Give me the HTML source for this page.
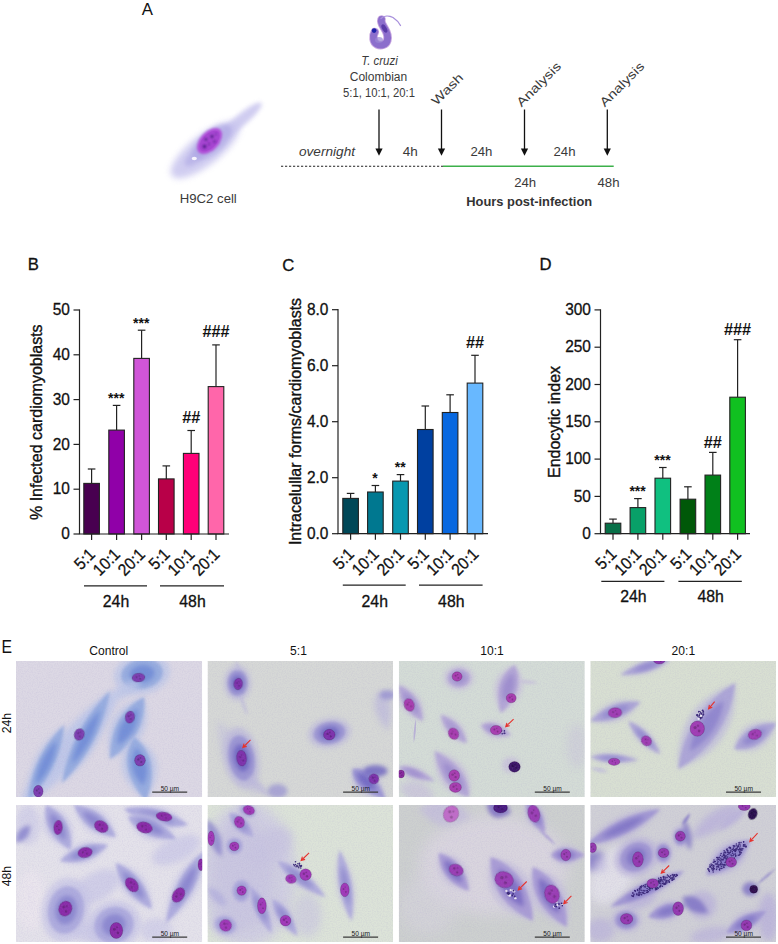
<!DOCTYPE html>
<html><head><meta charset="utf-8"><style>
html,body{margin:0;padding:0;background:#fff;overflow:hidden;}
svg{display:block;font-family:"Liberation Sans", sans-serif;}
</style></head><body>
<svg width="778" height="944" viewBox="0 0 778 944">
<defs><filter id="grain" x="0" y="0" width="100%" height="100%"><feTurbulence type="fractalNoise" baseFrequency="0.8" numOctaves="2" seed="7"/><feColorMatrix type="matrix" values="0 0 0 0 0.35  0 0 0 0 0.3  0 0 0 0 0.6  0 0 0 -1.6 0.95"/></filter><filter id="b0_5" x="-50%" y="-50%" width="200%" height="200%"><feGaussianBlur stdDeviation="0.5"/></filter><filter id="b0_8" x="-50%" y="-50%" width="200%" height="200%"><feGaussianBlur stdDeviation="0.8"/></filter><filter id="b1" x="-50%" y="-50%" width="200%" height="200%"><feGaussianBlur stdDeviation="1"/></filter><filter id="b1_2" x="-50%" y="-50%" width="200%" height="200%"><feGaussianBlur stdDeviation="1.2"/></filter><filter id="b1_5" x="-50%" y="-50%" width="200%" height="200%"><feGaussianBlur stdDeviation="1.5"/></filter><filter id="b2" x="-50%" y="-50%" width="200%" height="200%"><feGaussianBlur stdDeviation="2"/></filter><filter id="b2_2" x="-50%" y="-50%" width="200%" height="200%"><feGaussianBlur stdDeviation="2.2"/></filter><filter id="b2_5" x="-50%" y="-50%" width="200%" height="200%"><feGaussianBlur stdDeviation="2.5"/></filter><filter id="b3" x="-50%" y="-50%" width="200%" height="200%"><feGaussianBlur stdDeviation="3"/></filter><filter id="b3_5" x="-50%" y="-50%" width="200%" height="200%"><feGaussianBlur stdDeviation="3.5"/></filter><filter id="b4" x="-50%" y="-50%" width="200%" height="200%"><feGaussianBlur stdDeviation="4"/></filter><filter id="b5" x="-50%" y="-50%" width="200%" height="200%"><feGaussianBlur stdDeviation="5"/></filter><filter id="b6" x="-50%" y="-50%" width="200%" height="200%"><feGaussianBlur stdDeviation="6"/></filter><filter id="b8" x="-50%" y="-50%" width="200%" height="200%"><feGaussianBlur stdDeviation="8"/></filter></defs>
<rect width="778" height="944" fill="#fff"/>
<text x="141.8" y="14.7" font-size="16.8" text-anchor="start" fill="#111">A</text>
<g>
<ellipse cx="205" cy="150" rx="42" ry="15" transform="rotate(-38 205 150)" fill="#c8c4ee" opacity="0.85" filter="url(#b3)"/>
<ellipse cx="240" cy="121" rx="28" ry="6" transform="rotate(-40 240 121)" fill="#c8c4ee" opacity="0.85" filter="url(#b2)"/>
<ellipse cx="212" cy="142" rx="24" ry="11" transform="rotate(-40 212 142)" fill="#aea8e4" opacity="0.7" filter="url(#b2)"/>
<ellipse cx="196" cy="156" rx="14" ry="6" transform="rotate(-40 196 156)" fill="#aea8e4" opacity="0.6" filter="url(#b2)"/>
<ellipse cx="209.5" cy="141" rx="15.5" ry="9.2" transform="rotate(-47 209.5 141)" fill="#b050d8" filter="url(#b1)"/>
<ellipse cx="209.5" cy="141" rx="12.5" ry="7" transform="rotate(-47 209.5 141)" fill="#a444d0" opacity="0.8"/>
<g filter="url(#b0_8)" fill="#5a2090"><circle cx="204.5" cy="146.5" r="1.9"/><circle cx="212" cy="136.5" r="1.7"/><circle cx="206" cy="139.5" r="1.4"/><circle cx="214.5" cy="141.5" r="1.3" opacity="0.8"/><circle cx="209" cy="144" r="1.2" opacity="0.7"/><circle cx="216" cy="134" r="1.1" opacity="0.6"/></g>
<ellipse cx="194.3" cy="158.5" rx="2.6" ry="1.8" fill="#fff" opacity="0.85"/>
</g>
<text x="208.3" y="203.3" font-size="13.6" text-anchor="middle" fill="#3a3a3a" textLength="57" lengthAdjust="spacingAndGlyphs">H9C2 cell</text>
<g filter="url(#b0_5)">
<path d="M374.8 32 C372.5 36, 373 42, 377 44.3 C381 46.3, 386 44.8, 387.3 40.5 C388.6 36, 386.5 31.5, 384.3 28 C382.5 25, 380.5 22.5, 381.5 19.5" fill="none" stroke="#c8a6e0" stroke-width="8.6" stroke-linecap="round"/>
<path d="M374.8 32 C372.5 36, 373 42, 377 44.3 C381 46.3, 386 44.8, 387.3 40.5 C388.6 36, 386.5 31.5, 384.3 28 C382.5 25, 380.5 22.5, 381.5 19.5" fill="none" stroke="#8c6ecc" stroke-width="6.8" stroke-linecap="round"/>
<path d="M381 18.5 C384 15.5, 389 15.5, 393 17.5 C396 19.5, 399 22.5, 400.5 25.5" fill="none" stroke="#a890dc" stroke-width="1.3" stroke-linecap="round"/>
<ellipse cx="384.4" cy="28.5" rx="2.2" ry="4.5" transform="rotate(-30 384.4 28.5)" fill="#5a3aa8"/>
<ellipse cx="379" cy="40" rx="4" ry="3" fill="#9a86d4" opacity="0.7"/>
</g>
<circle cx="374.1" cy="30.6" r="2.3" fill="#1c22a8" filter="url(#b0_5)"/>
<text x="379.5" y="64.8" font-size="12" text-anchor="middle" fill="#3a3a3a" font-style="italic" textLength="36.5" lengthAdjust="spacingAndGlyphs">T. cruzi</text>
<text x="378.5" y="81.3" font-size="12" text-anchor="middle" fill="#3a3a3a" textLength="57.5" lengthAdjust="spacingAndGlyphs">Colombian</text>
<text x="379" y="97.3" font-size="12" text-anchor="middle" fill="#3a3a3a" textLength="72" lengthAdjust="spacingAndGlyphs">5:1, 10:1, 20:1</text>
<line x1="379" y1="109.5" x2="379" y2="150" stroke="#111" stroke-width="1.3"/>
<path d="M375.4 148.6 L382.6 148.6 L379 155.8 Z" fill="#111"/>
<line x1="441.5" y1="109.5" x2="441.5" y2="150" stroke="#111" stroke-width="1.3"/>
<path d="M437.9 148.6 L445.1 148.6 L441.5 155.8 Z" fill="#111"/>
<line x1="524.5" y1="109.5" x2="524.5" y2="150" stroke="#111" stroke-width="1.3"/>
<path d="M520.9 148.6 L528.1 148.6 L524.5 155.8 Z" fill="#111"/>
<line x1="607.3" y1="109.5" x2="607.3" y2="150" stroke="#111" stroke-width="1.3"/>
<path d="M603.6999999999999 148.6 L610.9 148.6 L607.3 155.8 Z" fill="#111"/>
<text x="327" y="156.2" font-size="12.5" text-anchor="middle" fill="#3a3a3a" font-style="italic" textLength="56" lengthAdjust="spacingAndGlyphs">overnight</text>
<text x="410.3" y="156.3" font-size="12.5" text-anchor="middle" fill="#3a3a3a" textLength="15" lengthAdjust="spacingAndGlyphs">4h</text>
<text x="481.4" y="156.4" font-size="12.5" text-anchor="middle" fill="#3a3a3a" textLength="22" lengthAdjust="spacingAndGlyphs">24h</text>
<text x="564.5" y="156.4" font-size="12.5" text-anchor="middle" fill="#3a3a3a" textLength="22" lengthAdjust="spacingAndGlyphs">24h</text>
<text x="525.2" y="187.3" font-size="12.5" text-anchor="middle" fill="#3a3a3a" textLength="22" lengthAdjust="spacingAndGlyphs">24h</text>
<text x="608.5" y="187.3" font-size="12.5" text-anchor="middle" fill="#3a3a3a" textLength="22" lengthAdjust="spacingAndGlyphs">48h</text>
<text x="529.2" y="205.6" font-size="12.5" text-anchor="middle" fill="#333" font-weight="bold" textLength="125.8" lengthAdjust="spacingAndGlyphs">Hours post-infection</text>
<line x1="281" y1="166.2" x2="443" y2="166.2" stroke="#222" stroke-width="1.1" stroke-dasharray="2.2 1.8"/>
<line x1="443" y1="166.3" x2="613.7" y2="166.3" stroke="#3cb04a" stroke-width="1.4"/>
<text x="436.5" y="106" font-size="12.5" text-anchor="start" fill="#3a3a3a" transform="rotate(-45 436.5 106)" textLength="39" lengthAdjust="spacingAndGlyphs">Wash</text>
<text x="521.5" y="107.5" font-size="12.5" text-anchor="start" fill="#3a3a3a" transform="rotate(-45 521.5 107.5)" textLength="57" lengthAdjust="spacingAndGlyphs">Analysis</text>
<text x="604.8" y="107.5" font-size="12.5" text-anchor="start" fill="#3a3a3a" transform="rotate(-45 604.8 107.5)" textLength="57" lengthAdjust="spacingAndGlyphs">Analysis</text>
<text x="27.8" y="270.3" font-size="16.7" text-anchor="start" fill="#111" stroke="#111" stroke-width="0.3">B</text>
<line x1="91.6" y1="483.4" x2="91.6" y2="469.0" stroke="#222" stroke-width="1.2"/>
<line x1="87.8" y1="469.0" x2="95.39999999999999" y2="469.0" stroke="#222" stroke-width="1.2"/>
<rect x="83.8" y="483.4" width="15.6" height="50.6" fill="#480050" stroke="#222" stroke-width="1.1"/>
<line x1="116.6" y1="430.1" x2="116.6" y2="405.4" stroke="#222" stroke-width="1.2"/>
<line x1="112.8" y1="405.4" x2="120.39999999999999" y2="405.4" stroke="#222" stroke-width="1.2"/>
<rect x="108.8" y="430.1" width="15.6" height="103.9" fill="#9000a8" stroke="#222" stroke-width="1.1"/>
<text x="116.3" y="402.82399999999996" font-size="14" text-anchor="middle" fill="#111" font-weight="bold">***</text>
<line x1="141.6" y1="358.4" x2="141.6" y2="330.2" stroke="#222" stroke-width="1.2"/>
<line x1="137.79999999999998" y1="330.2" x2="145.4" y2="330.2" stroke="#222" stroke-width="1.2"/>
<rect x="133.79999999999998" y="358.4" width="15.6" height="175.6" fill="#d055d8" stroke="#222" stroke-width="1.1"/>
<text x="141.29999999999998" y="327.55999999999995" font-size="14" text-anchor="middle" fill="#111" font-weight="bold">***</text>
<line x1="166.3" y1="478.9" x2="166.3" y2="465.9" stroke="#222" stroke-width="1.2"/>
<line x1="162.5" y1="465.9" x2="170.10000000000002" y2="465.9" stroke="#222" stroke-width="1.2"/>
<rect x="158.5" y="478.9" width="15.6" height="55.1" fill="#b80048" stroke="#222" stroke-width="1.1"/>
<line x1="191.2" y1="453.4" x2="191.2" y2="430.5" stroke="#222" stroke-width="1.2"/>
<line x1="187.39999999999998" y1="430.5" x2="195.0" y2="430.5" stroke="#222" stroke-width="1.2"/>
<rect x="183.39999999999998" y="453.4" width="15.6" height="80.6" fill="#ff0078" stroke="#222" stroke-width="1.1"/>
<text x="191.2" y="422.512" font-size="16.3" text-anchor="middle" fill="#111" font-weight="bold">##</text>
<line x1="216.0" y1="386.6" x2="216.0" y2="344.9" stroke="#222" stroke-width="1.2"/>
<line x1="212.2" y1="344.9" x2="219.8" y2="344.9" stroke="#222" stroke-width="1.2"/>
<rect x="208.2" y="386.6" width="15.6" height="147.4" fill="#ff66aa" stroke="#222" stroke-width="1.1"/>
<text x="216.0" y="336.94399999999996" font-size="16.3" text-anchor="middle" fill="#111" font-weight="bold">###</text>
<line x1="79.5" y1="309.4" x2="79.5" y2="534" stroke="#222" stroke-width="1.2"/>
<line x1="78.9" y1="534" x2="229" y2="534" stroke="#222" stroke-width="1.2"/>
<line x1="73.5" y1="534.0" x2="79.5" y2="534.0" stroke="#222" stroke-width="1.2"/>
<text x="0" y="0" font-size="16.8" text-anchor="end" fill="#111" stroke="#111" stroke-width="0.3" transform="translate(69.9 539.2) scale(0.92 1)">0</text>
<line x1="73.5" y1="489.2" x2="79.5" y2="489.2" stroke="#222" stroke-width="1.2"/>
<text x="0" y="0" font-size="16.8" text-anchor="end" fill="#111" stroke="#111" stroke-width="0.3" transform="translate(69.9 494.4) scale(0.92 1)">10</text>
<line x1="73.5" y1="444.4" x2="79.5" y2="444.4" stroke="#222" stroke-width="1.2"/>
<text x="0" y="0" font-size="16.8" text-anchor="end" fill="#111" stroke="#111" stroke-width="0.3" transform="translate(69.9 449.59999999999997) scale(0.92 1)">20</text>
<line x1="73.5" y1="399.6" x2="79.5" y2="399.6" stroke="#222" stroke-width="1.2"/>
<text x="0" y="0" font-size="16.8" text-anchor="end" fill="#111" stroke="#111" stroke-width="0.3" transform="translate(69.9 404.8) scale(0.92 1)">30</text>
<line x1="73.5" y1="354.8" x2="79.5" y2="354.8" stroke="#222" stroke-width="1.2"/>
<text x="0" y="0" font-size="16.8" text-anchor="end" fill="#111" stroke="#111" stroke-width="0.3" transform="translate(69.9 359.99999999999994) scale(0.92 1)">40</text>
<line x1="73.5" y1="310.0" x2="79.5" y2="310.0" stroke="#222" stroke-width="1.2"/>
<text x="0" y="0" font-size="16.8" text-anchor="end" fill="#111" stroke="#111" stroke-width="0.3" transform="translate(69.9 315.2) scale(0.92 1)">50</text>
<line x1="91.6" y1="534" x2="91.6" y2="540" stroke="#222" stroke-width="1.2"/>
<line x1="116.6" y1="534" x2="116.6" y2="540" stroke="#222" stroke-width="1.2"/>
<line x1="141.6" y1="534" x2="141.6" y2="540" stroke="#222" stroke-width="1.2"/>
<line x1="166.3" y1="534" x2="166.3" y2="540" stroke="#222" stroke-width="1.2"/>
<line x1="191.2" y1="534" x2="191.2" y2="540" stroke="#222" stroke-width="1.2"/>
<line x1="216.0" y1="534" x2="216.0" y2="540" stroke="#222" stroke-width="1.2"/>
<text x="0" y="0" font-size="16.8" text-anchor="end" fill="#111" stroke="#111" stroke-width="0.3" transform="translate(96.1 555.5) rotate(-45) scale(0.92 1)">5:1</text>
<text x="0" y="0" font-size="16.8" text-anchor="end" fill="#111" stroke="#111" stroke-width="0.3" transform="translate(121.1 555.5) rotate(-45) scale(0.92 1)">10:1</text>
<text x="0" y="0" font-size="16.8" text-anchor="end" fill="#111" stroke="#111" stroke-width="0.3" transform="translate(146.1 555.5) rotate(-45) scale(0.92 1)">20:1</text>
<text x="0" y="0" font-size="16.8" text-anchor="end" fill="#111" stroke="#111" stroke-width="0.3" transform="translate(170.8 555.5) rotate(-45) scale(0.92 1)">5:1</text>
<text x="0" y="0" font-size="16.8" text-anchor="end" fill="#111" stroke="#111" stroke-width="0.3" transform="translate(195.7 555.5) rotate(-45) scale(0.92 1)">10:1</text>
<text x="0" y="0" font-size="16.8" text-anchor="end" fill="#111" stroke="#111" stroke-width="0.3" transform="translate(220.5 555.5) rotate(-45) scale(0.92 1)">20:1</text>
<text x="42.0" y="422.2" font-size="16" text-anchor="middle" fill="#111" stroke="#111" stroke-width="0.35" transform="rotate(-90 42.0 422.2)">% Infected cardiomyoblasts</text>
<line x1="84" y1="585.8" x2="147" y2="585.8" stroke="#222" stroke-width="1.2"/>
<text x="116.0" y="607" font-size="15.8" text-anchor="middle" fill="#111" stroke="#111" stroke-width="0.3">24h</text>
<line x1="160" y1="585.8" x2="224" y2="585.8" stroke="#222" stroke-width="1.2"/>
<text x="192.5" y="607" font-size="15.8" text-anchor="middle" fill="#111" stroke="#111" stroke-width="0.3">48h</text>
<text x="282.2" y="270.6" font-size="16.7" text-anchor="start" fill="#111" stroke="#111" stroke-width="0.3">C</text>
<line x1="350.6" y1="498.4" x2="350.6" y2="493.4" stroke="#222" stroke-width="1.2"/>
<line x1="346.8" y1="493.4" x2="354.40000000000003" y2="493.4" stroke="#222" stroke-width="1.2"/>
<rect x="342.8" y="498.4" width="15.6" height="35.3" fill="#004858" stroke="#222" stroke-width="1.1"/>
<line x1="375.4" y1="492.0" x2="375.4" y2="485.5" stroke="#222" stroke-width="1.2"/>
<line x1="371.59999999999997" y1="485.5" x2="379.2" y2="485.5" stroke="#222" stroke-width="1.2"/>
<rect x="367.59999999999997" y="492.0" width="15.6" height="41.7" fill="#007890" stroke="#222" stroke-width="1.1"/>
<text x="375.09999999999997" y="482.94" font-size="14" text-anchor="middle" fill="#111" font-weight="bold">*</text>
<line x1="400.5" y1="481.1" x2="400.5" y2="474.6" stroke="#222" stroke-width="1.2"/>
<line x1="396.7" y1="474.6" x2="404.3" y2="474.6" stroke="#222" stroke-width="1.2"/>
<rect x="392.7" y="481.1" width="15.6" height="52.6" fill="#0898b0" stroke="#222" stroke-width="1.1"/>
<text x="400.2" y="472.02" font-size="14" text-anchor="middle" fill="#111" font-weight="bold">**</text>
<line x1="425.3" y1="429.5" x2="425.3" y2="406.0" stroke="#222" stroke-width="1.2"/>
<line x1="421.5" y1="406.0" x2="429.1" y2="406.0" stroke="#222" stroke-width="1.2"/>
<rect x="417.5" y="429.5" width="15.6" height="104.2" fill="#0040a0" stroke="#222" stroke-width="1.1"/>
<line x1="450.1" y1="412.5" x2="450.1" y2="394.8" stroke="#222" stroke-width="1.2"/>
<line x1="446.3" y1="394.8" x2="453.90000000000003" y2="394.8" stroke="#222" stroke-width="1.2"/>
<rect x="442.3" y="412.5" width="15.6" height="121.2" fill="#0868e0" stroke="#222" stroke-width="1.1"/>
<line x1="475.0" y1="383.1" x2="475.0" y2="355.3" stroke="#222" stroke-width="1.2"/>
<line x1="471.2" y1="355.3" x2="478.8" y2="355.3" stroke="#222" stroke-width="1.2"/>
<rect x="467.2" y="383.1" width="15.6" height="150.6" fill="#68b8ff" stroke="#222" stroke-width="1.1"/>
<text x="475.0" y="347.94000000000005" font-size="16.3" text-anchor="middle" fill="#111" font-weight="bold">##</text>
<line x1="338" y1="309.09999999999997" x2="338" y2="533.7" stroke="#222" stroke-width="1.2"/>
<line x1="337.4" y1="533.7" x2="488" y2="533.7" stroke="#222" stroke-width="1.2"/>
<line x1="332" y1="533.7" x2="338" y2="533.7" stroke="#222" stroke-width="1.2"/>
<text x="0" y="0" font-size="16.8" text-anchor="end" fill="#111" stroke="#111" stroke-width="0.3" transform="translate(328.4 538.9000000000001) scale(0.92 1)">0.0</text>
<line x1="332" y1="477.7" x2="338" y2="477.7" stroke="#222" stroke-width="1.2"/>
<text x="0" y="0" font-size="16.8" text-anchor="end" fill="#111" stroke="#111" stroke-width="0.3" transform="translate(328.4 482.90000000000003) scale(0.92 1)">2.0</text>
<line x1="332" y1="421.7" x2="338" y2="421.7" stroke="#222" stroke-width="1.2"/>
<text x="0" y="0" font-size="16.8" text-anchor="end" fill="#111" stroke="#111" stroke-width="0.3" transform="translate(328.4 426.90000000000003) scale(0.92 1)">4.0</text>
<line x1="332" y1="365.7" x2="338" y2="365.7" stroke="#222" stroke-width="1.2"/>
<text x="0" y="0" font-size="16.8" text-anchor="end" fill="#111" stroke="#111" stroke-width="0.3" transform="translate(328.4 370.9) scale(0.92 1)">6.0</text>
<line x1="332" y1="309.7" x2="338" y2="309.7" stroke="#222" stroke-width="1.2"/>
<text x="0" y="0" font-size="16.8" text-anchor="end" fill="#111" stroke="#111" stroke-width="0.3" transform="translate(328.4 314.9) scale(0.92 1)">8.0</text>
<line x1="350.6" y1="533.7" x2="350.6" y2="539.7" stroke="#222" stroke-width="1.2"/>
<line x1="375.4" y1="533.7" x2="375.4" y2="539.7" stroke="#222" stroke-width="1.2"/>
<line x1="400.5" y1="533.7" x2="400.5" y2="539.7" stroke="#222" stroke-width="1.2"/>
<line x1="425.3" y1="533.7" x2="425.3" y2="539.7" stroke="#222" stroke-width="1.2"/>
<line x1="450.1" y1="533.7" x2="450.1" y2="539.7" stroke="#222" stroke-width="1.2"/>
<line x1="475.0" y1="533.7" x2="475.0" y2="539.7" stroke="#222" stroke-width="1.2"/>
<text x="0" y="0" font-size="16.8" text-anchor="end" fill="#111" stroke="#111" stroke-width="0.3" transform="translate(355.1 555.2) rotate(-45) scale(0.92 1)">5:1</text>
<text x="0" y="0" font-size="16.8" text-anchor="end" fill="#111" stroke="#111" stroke-width="0.3" transform="translate(379.9 555.2) rotate(-45) scale(0.92 1)">10:1</text>
<text x="0" y="0" font-size="16.8" text-anchor="end" fill="#111" stroke="#111" stroke-width="0.3" transform="translate(405.0 555.2) rotate(-45) scale(0.92 1)">20:1</text>
<text x="0" y="0" font-size="16.8" text-anchor="end" fill="#111" stroke="#111" stroke-width="0.3" transform="translate(429.8 555.2) rotate(-45) scale(0.92 1)">5:1</text>
<text x="0" y="0" font-size="16.8" text-anchor="end" fill="#111" stroke="#111" stroke-width="0.3" transform="translate(454.6 555.2) rotate(-45) scale(0.92 1)">10:1</text>
<text x="0" y="0" font-size="16.8" text-anchor="end" fill="#111" stroke="#111" stroke-width="0.3" transform="translate(479.5 555.2) rotate(-45) scale(0.92 1)">20:1</text>
<text x="300.5" y="421.5" font-size="16" text-anchor="middle" fill="#111" stroke="#111" stroke-width="0.35" transform="rotate(-90 300.5 421.5)">Intracelullar forms/cardiomyoblasts</text>
<line x1="342.8" y1="585.1" x2="405.7" y2="585.1" stroke="#222" stroke-width="1.2"/>
<text x="374.75" y="607" font-size="15.8" text-anchor="middle" fill="#111" stroke="#111" stroke-width="0.3">24h</text>
<line x1="419" y1="585.1" x2="482.6" y2="585.1" stroke="#222" stroke-width="1.2"/>
<text x="451.3" y="607" font-size="15.8" text-anchor="middle" fill="#111" stroke="#111" stroke-width="0.3">48h</text>
<text x="539.6" y="270.3" font-size="16.7" text-anchor="start" fill="#111" stroke="#111" stroke-width="0.3">D</text>
<line x1="613" y1="523.2" x2="613" y2="519.1" stroke="#222" stroke-width="1.2"/>
<line x1="609.2" y1="519.1" x2="616.8" y2="519.1" stroke="#222" stroke-width="1.2"/>
<rect x="605.2" y="523.2" width="15.6" height="10.5" fill="#087048" stroke="#222" stroke-width="1.1"/>
<line x1="637.9" y1="507.6" x2="637.9" y2="498.6" stroke="#222" stroke-width="1.2"/>
<line x1="634.1" y1="498.6" x2="641.6999999999999" y2="498.6" stroke="#222" stroke-width="1.2"/>
<rect x="630.1" y="507.6" width="15.6" height="26.1" fill="#08a068" stroke="#222" stroke-width="1.1"/>
<text x="637.6" y="496.038" font-size="14" text-anchor="middle" fill="#111" font-weight="bold">***</text>
<line x1="662.8" y1="478.2" x2="662.8" y2="467.5" stroke="#222" stroke-width="1.2"/>
<line x1="659.0" y1="467.5" x2="666.5999999999999" y2="467.5" stroke="#222" stroke-width="1.2"/>
<rect x="655.0" y="478.2" width="15.6" height="55.5" fill="#10c080" stroke="#222" stroke-width="1.1"/>
<text x="662.5" y="464.9298" font-size="14" text-anchor="middle" fill="#111" font-weight="bold">***</text>
<line x1="687.9" y1="499.2" x2="687.9" y2="486.8" stroke="#222" stroke-width="1.2"/>
<line x1="684.1" y1="486.8" x2="691.6999999999999" y2="486.8" stroke="#222" stroke-width="1.2"/>
<rect x="680.1" y="499.2" width="15.6" height="34.5" fill="#005808" stroke="#222" stroke-width="1.1"/>
<line x1="712.8" y1="475.1" x2="712.8" y2="452.4" stroke="#222" stroke-width="1.2"/>
<line x1="709.0" y1="452.4" x2="716.5999999999999" y2="452.4" stroke="#222" stroke-width="1.2"/>
<rect x="705.0" y="475.1" width="15.6" height="58.6" fill="#008018" stroke="#222" stroke-width="1.1"/>
<text x="712.8" y="447.586" font-size="16.3" text-anchor="middle" fill="#111" font-weight="bold">##</text>
<line x1="737.6" y1="397.2" x2="737.6" y2="339.7" stroke="#222" stroke-width="1.2"/>
<line x1="733.8000000000001" y1="339.7" x2="741.4" y2="339.7" stroke="#222" stroke-width="1.2"/>
<rect x="729.8000000000001" y="397.2" width="15.6" height="136.5" fill="#10c020" stroke="#222" stroke-width="1.1"/>
<text x="737.6" y="334.94" font-size="16.3" text-anchor="middle" fill="#111" font-weight="bold">###</text>
<line x1="600.5" y1="309.29999999999995" x2="600.5" y2="533.7" stroke="#222" stroke-width="1.2"/>
<line x1="599.9" y1="533.7" x2="750" y2="533.7" stroke="#222" stroke-width="1.2"/>
<line x1="594.5" y1="533.7" x2="600.5" y2="533.7" stroke="#222" stroke-width="1.2"/>
<text x="0" y="0" font-size="16.8" text-anchor="end" fill="#111" stroke="#111" stroke-width="0.3" transform="translate(590.9 538.9000000000001) scale(0.92 1)">0</text>
<line x1="594.5" y1="496.4" x2="600.5" y2="496.4" stroke="#222" stroke-width="1.2"/>
<text x="0" y="0" font-size="16.8" text-anchor="end" fill="#111" stroke="#111" stroke-width="0.3" transform="translate(590.9 501.6) scale(0.92 1)">50</text>
<line x1="594.5" y1="459.1" x2="600.5" y2="459.1" stroke="#222" stroke-width="1.2"/>
<text x="0" y="0" font-size="16.8" text-anchor="end" fill="#111" stroke="#111" stroke-width="0.3" transform="translate(590.9 464.3) scale(0.92 1)">100</text>
<line x1="594.5" y1="421.8" x2="600.5" y2="421.8" stroke="#222" stroke-width="1.2"/>
<text x="0" y="0" font-size="16.8" text-anchor="end" fill="#111" stroke="#111" stroke-width="0.3" transform="translate(590.9 427.0) scale(0.92 1)">150</text>
<line x1="594.5" y1="384.5" x2="600.5" y2="384.5" stroke="#222" stroke-width="1.2"/>
<text x="0" y="0" font-size="16.8" text-anchor="end" fill="#111" stroke="#111" stroke-width="0.3" transform="translate(590.9 389.7) scale(0.92 1)">200</text>
<line x1="594.5" y1="347.2" x2="600.5" y2="347.2" stroke="#222" stroke-width="1.2"/>
<text x="0" y="0" font-size="16.8" text-anchor="end" fill="#111" stroke="#111" stroke-width="0.3" transform="translate(590.9 352.4) scale(0.92 1)">250</text>
<line x1="594.5" y1="309.9" x2="600.5" y2="309.9" stroke="#222" stroke-width="1.2"/>
<text x="0" y="0" font-size="16.8" text-anchor="end" fill="#111" stroke="#111" stroke-width="0.3" transform="translate(590.9 315.09999999999997) scale(0.92 1)">300</text>
<line x1="613" y1="533.7" x2="613" y2="539.7" stroke="#222" stroke-width="1.2"/>
<line x1="637.9" y1="533.7" x2="637.9" y2="539.7" stroke="#222" stroke-width="1.2"/>
<line x1="662.8" y1="533.7" x2="662.8" y2="539.7" stroke="#222" stroke-width="1.2"/>
<line x1="687.9" y1="533.7" x2="687.9" y2="539.7" stroke="#222" stroke-width="1.2"/>
<line x1="712.8" y1="533.7" x2="712.8" y2="539.7" stroke="#222" stroke-width="1.2"/>
<line x1="737.6" y1="533.7" x2="737.6" y2="539.7" stroke="#222" stroke-width="1.2"/>
<text x="0" y="0" font-size="16.8" text-anchor="end" fill="#111" stroke="#111" stroke-width="0.3" transform="translate(617.5 555.2) rotate(-45) scale(0.92 1)">5:1</text>
<text x="0" y="0" font-size="16.8" text-anchor="end" fill="#111" stroke="#111" stroke-width="0.3" transform="translate(642.4 555.2) rotate(-45) scale(0.92 1)">10:1</text>
<text x="0" y="0" font-size="16.8" text-anchor="end" fill="#111" stroke="#111" stroke-width="0.3" transform="translate(667.3 555.2) rotate(-45) scale(0.92 1)">20:1</text>
<text x="0" y="0" font-size="16.8" text-anchor="end" fill="#111" stroke="#111" stroke-width="0.3" transform="translate(692.4 555.2) rotate(-45) scale(0.92 1)">5:1</text>
<text x="0" y="0" font-size="16.8" text-anchor="end" fill="#111" stroke="#111" stroke-width="0.3" transform="translate(717.3 555.2) rotate(-45) scale(0.92 1)">10:1</text>
<text x="0" y="0" font-size="16.8" text-anchor="end" fill="#111" stroke="#111" stroke-width="0.3" transform="translate(742.1 555.2) rotate(-45) scale(0.92 1)">20:1</text>
<text x="559.5" y="422" font-size="16" text-anchor="middle" fill="#111" stroke="#111" stroke-width="0.35" transform="rotate(-90 559.5 422)">Endocytic index</text>
<line x1="601.3" y1="581.4" x2="664.4" y2="581.4" stroke="#222" stroke-width="1.2"/>
<text x="633.3499999999999" y="601.8" font-size="15.8" text-anchor="middle" fill="#111" stroke="#111" stroke-width="0.3">24h</text>
<line x1="678.4" y1="581.4" x2="741.8" y2="581.4" stroke="#222" stroke-width="1.2"/>
<text x="710.5999999999999" y="601.8" font-size="15.8" text-anchor="middle" fill="#111" stroke="#111" stroke-width="0.3">48h</text>
<text x="0" y="0" font-size="17.5" text-anchor="start" fill="#111" transform="translate(1.6 653.2) scale(0.9 1)">E</text>
<text x="0" y="0" font-size="13" text-anchor="middle" fill="#111" transform="translate(108.75 654.9) scale(0.93 1)">Control</text>
<text x="0" y="0" font-size="13" text-anchor="middle" fill="#111" transform="translate(298.45 654.9) scale(0.93 1)">5:1</text>
<text x="0" y="0" font-size="13" text-anchor="middle" fill="#111" transform="translate(492 654.9) scale(0.93 1)">10:1</text>
<text x="0" y="0" font-size="13" text-anchor="middle" fill="#111" transform="translate(683.35 654.9) scale(0.93 1)">20:1</text>
<text x="10.9" y="723" font-size="12.2" text-anchor="middle" fill="#111" transform="rotate(-90 10.9 723)">24h</text>
<text x="10.9" y="876" font-size="12.2" text-anchor="middle" fill="#111" transform="rotate(-90 10.9 876)">48h</text>
<svg x="16" y="661" width="186.2" height="136" viewBox="0 0 186.2 136" overflow="hidden">
<rect width="186.2" height="136" fill="#dcd8e4"/>
<path d="M0 150 Q76.8 106.5 108 24 Q31.2 67.5 0 150Z" fill="#bcc6ea" opacity="0.8" filter="url(#b3)"/>
<path d="M12 140 Q51.7 112.3 48 64 Q8.3 91.7 12 140Z" fill="#bcc6e8" opacity="0.75" filter="url(#b2_5)"/>
<path d="M12 140 Q44.5 108.8 48 64 Q15.5 95.2 12 140Z" fill="#90a8de" opacity="0.85" filter="url(#b1_5)"/>
<path d="M19.200000000000003 124.8 Q38.7 106.1 40.8 79.2 Q21.3 97.9 19.200000000000003 124.8Z" fill="#6c88d6" opacity="0.8" filter="url(#b2)"/>
<path d="M46 122 Q92.6 87.8 94 30 Q47.4 64.2 46 122Z" fill="#bcc6e8" opacity="0.75" filter="url(#b2_5)"/>
<path d="M46 122 Q85.1 83.9 94 30 Q54.9 68.1 46 122Z" fill="#90a8de" opacity="0.85" filter="url(#b1_5)"/>
<path d="M55.6 103.6 Q79.0 80.7 84.4 48.400000000000006 Q61.0 71.3 55.6 103.6Z" fill="#6c88d6" opacity="0.8" filter="url(#b2)"/>
<ellipse cx="126" cy="13" rx="28.35" ry="20.25" transform="rotate(-10 126 13)" fill="#bcc6e8" opacity="0.75" filter="url(#b2_5)"/>
<ellipse cx="126" cy="13" rx="21" ry="15" transform="rotate(-10 126 13)" fill="#90a8de" opacity="0.85" filter="url(#b1_5)"/>
<ellipse cx="126" cy="13" rx="12.6" ry="9.0" transform="rotate(-10 126 13)" fill="#6c88d6" opacity="0.8" filter="url(#b2)"/>
<ellipse cx="112" cy="28" rx="14" ry="6" transform="rotate(-35 112 28)" fill="#bcc6e8" opacity="0.8" filter="url(#b3)"/>
<path d="M94 98 Q141.6 79.8 128 36 Q83.8 48.0 94 98Z" fill="#bcc6e8" opacity="0.75" filter="url(#b2_5)"/>
<path d="M94 98 Q132.0 74.5 128 36 Q93.4 53.3 94 98Z" fill="#90a8de" opacity="0.85" filter="url(#b1_5)"/>
<path d="M101.48 84.36 Q123.3 72.1 121.88 47.16 Q100.1 59.4 101.48 84.36Z" fill="#6c88d6" opacity="0.8" filter="url(#b2)"/>
<path d="M118 76 Q87.4 108.2 130 140 Q158.2 95.0 118 76Z" fill="#bcc6e8" opacity="0.75" filter="url(#b2_5)"/>
<path d="M118 76 Q99.2 106.0 130 140 Q146.4 97.2 118 76Z" fill="#90a8de" opacity="0.85" filter="url(#b1_5)"/>
<path d="M119.92 86.24 Q109.4 108.1 127.12 124.64 Q137.7 102.8 119.92 86.24Z" fill="#6c88d6" opacity="0.8" filter="url(#b2)"/>
<g transform="rotate(-5 122.5 16.6)" filter="url(#b0_5)"><ellipse cx="122.5" cy="16.6" rx="6.5" ry="4.3" fill="#7c3cb0" stroke="#000" stroke-opacity="0.18" stroke-width="0.9"/><circle cx="120.5" cy="16.0" r="0.9" fill="#000" opacity="0.22"/><circle cx="124.1" cy="17.9" r="0.9" fill="#000" opacity="0.22"/><circle cx="123.2" cy="14.9" r="0.7" fill="#000" opacity="0.18"/></g>
<g transform="rotate(10 113.9 56.1)" filter="url(#b0_5)"><ellipse cx="113.9" cy="56.1" rx="4.7" ry="6.1" fill="#7c3cb0" stroke="#000" stroke-opacity="0.18" stroke-width="0.9"/><circle cx="112.5" cy="55.2" r="1.0" fill="#000" opacity="0.22"/><circle cx="115.1" cy="57.9" r="0.9" fill="#000" opacity="0.22"/><circle cx="114.4" cy="53.7" r="0.8" fill="#000" opacity="0.18"/></g>
<g transform="rotate(20 63.3 73.4)" filter="url(#b0_5)"><ellipse cx="63.3" cy="73.4" rx="5" ry="6" fill="#7c3cb0" stroke="#000" stroke-opacity="0.18" stroke-width="0.9"/><circle cx="61.8" cy="72.5" r="1.1" fill="#000" opacity="0.22"/><circle cx="64.5" cy="75.2" r="1.0" fill="#000" opacity="0.22"/><circle cx="63.8" cy="71.0" r="0.8" fill="#000" opacity="0.18"/></g>
<g transform="rotate(0 124 99.3)" filter="url(#b0_5)"><ellipse cx="124" cy="99.3" rx="5.4" ry="5.8" fill="#7c3cb0" stroke="#000" stroke-opacity="0.18" stroke-width="0.9"/><circle cx="122.4" cy="98.4" r="1.2" fill="#000" opacity="0.22"/><circle cx="125.3" cy="101.0" r="1.1" fill="#000" opacity="0.22"/><circle cx="124.5" cy="97.0" r="0.9" fill="#000" opacity="0.18"/></g>
<g transform="rotate(0 22.3 130.3)" filter="url(#b0_5)"><ellipse cx="22.3" cy="130.3" rx="4.8" ry="6" fill="#7c3cb0" stroke="#000" stroke-opacity="0.18" stroke-width="0.9"/><circle cx="20.9" cy="129.4" r="1.1" fill="#000" opacity="0.22"/><circle cx="23.5" cy="132.1" r="1.0" fill="#000" opacity="0.22"/><circle cx="22.8" cy="127.9" r="0.8" fill="#000" opacity="0.18"/></g>
<rect width="186.2" height="136" filter="url(#grain)" opacity="0.18"/>
<line x1="136.2" y1="131.1" x2="171.2" y2="131.1" stroke="#3a3a3a" stroke-width="1.1"/>
<text x="153.89999999999998" y="129.5" font-size="6.6" text-anchor="middle" fill="#1a1a1a">50 µm</text>
</svg>
<svg x="207.5" y="661" width="185.6" height="136" viewBox="0 0 185.6 136" overflow="hidden">
<rect width="185.6" height="136" fill="#d6d8d6"/>
<path d="M10 60 Q8.8 109.2 50 136 Q51.2 86.8 10 60Z" fill="#c4c2dc" opacity="0.6" filter="url(#b3)"/>
<ellipse cx="30" cy="22" rx="13.5" ry="17.55" transform="rotate(0 30 22)" fill="#bcb8dc" opacity="0.75" filter="url(#b2_5)"/>
<ellipse cx="30" cy="22" rx="10" ry="13" transform="rotate(0 30 22)" fill="#9690d2" opacity="0.85" filter="url(#b1_5)"/>
<ellipse cx="30" cy="22" rx="6.0" ry="7.8" transform="rotate(0 30 22)" fill="#6a60c0" opacity="0.8" filter="url(#b2)"/>
<path d="M28 0 Q26.3 6.5 32 10 Q33.7 3.5 28 0Z" fill="#bcb8dc" opacity="0.6" filter="url(#b1_5)"/>
<path d="M32 32 Q32.2 44.8 40 55 Q39.8 42.2 32 32Z" fill="#bcb8dc" opacity="0.6" filter="url(#b1_5)"/>
<ellipse cx="122" cy="72" rx="21.6" ry="14.850000000000001" transform="rotate(-10 122 72)" fill="#bcb8dc" opacity="0.75" filter="url(#b2_5)"/>
<ellipse cx="122" cy="72" rx="16" ry="11" transform="rotate(-10 122 72)" fill="#9690d2" opacity="0.85" filter="url(#b1_5)"/>
<ellipse cx="122" cy="72" rx="9.6" ry="6.6" transform="rotate(-10 122 72)" fill="#6a60c0" opacity="0.8" filter="url(#b2)"/>
<ellipse cx="34" cy="97" rx="17.55" ry="31.05" transform="rotate(-10 34 97)" fill="#bcb8dc" opacity="0.75" filter="url(#b2_5)"/>
<ellipse cx="34" cy="97" rx="13" ry="23" transform="rotate(-10 34 97)" fill="#9690d2" opacity="0.85" filter="url(#b1_5)"/>
<ellipse cx="34" cy="97" rx="7.8" ry="13.799999999999999" transform="rotate(-10 34 97)" fill="#6a60c0" opacity="0.8" filter="url(#b2)"/>
<path d="M40 115 Q45.5 131.3 62 136 Q56.5 119.7 40 115Z" fill="#bcb8dc" opacity="0.7" filter="url(#b2)"/>
<path d="M145 108 Q138.8 134.8 178 138 Q171.0 99.2 145 108Z" fill="#bcb8dc" opacity="0.75" filter="url(#b2_5)"/>
<path d="M145 108 Q144.1 128.8 178 138 Q165.7 105.2 145 108Z" fill="#9690d2" opacity="0.85" filter="url(#b1_5)"/>
<path d="M148.96 111.6 Q152.4 127.7 168.76 129.6 Q165.3 113.5 148.96 111.6Z" fill="#6a60c0" opacity="0.8" filter="url(#b2)"/>
<ellipse cx="168" cy="110" rx="12" ry="6" transform="rotate(0 168 110)" fill="#6a60c0" opacity="0.8" filter="url(#b2)"/>
<path d="M172 30 Q158.7 45.1 180 70 Q190.1 38.9 172 30Z" fill="#bcb8dc" opacity="0.7" filter="url(#b3)"/>
<ellipse cx="180" cy="34" rx="8" ry="5" transform="rotate(0 180 34)" fill="#9690d2" opacity="0.8" filter="url(#b2)"/>
<ellipse cx="70" cy="130" rx="10" ry="7" transform="rotate(0 70 130)" fill="#9690d2" opacity="0.7" filter="url(#b2)"/>
<g transform="rotate(5 30.7 23)" filter="url(#b0_5)"><ellipse cx="30.7" cy="23" rx="4.3" ry="5.8" fill="#7e30ac" stroke="#000" stroke-opacity="0.18" stroke-width="0.9"/><circle cx="29.4" cy="22.1" r="0.9" fill="#000" opacity="0.22"/><circle cx="31.8" cy="24.7" r="0.9" fill="#000" opacity="0.22"/><circle cx="31.1" cy="20.7" r="0.7" fill="#000" opacity="0.18"/></g>
<g transform="rotate(0 121.8 73.7)" filter="url(#b0_5)"><ellipse cx="121.8" cy="73.7" rx="5.8" ry="5.4" fill="#7e30ac" stroke="#000" stroke-opacity="0.18" stroke-width="0.9"/><circle cx="120.1" cy="72.9" r="1.2" fill="#000" opacity="0.22"/><circle cx="123.2" cy="75.3" r="1.1" fill="#000" opacity="0.22"/><circle cx="122.4" cy="71.5" r="0.9" fill="#000" opacity="0.18"/></g>
<g transform="rotate(-5 34.1 97.2)" filter="url(#b0_5)"><ellipse cx="34.1" cy="97.2" rx="5" ry="7.9" fill="#7e30ac" stroke="#000" stroke-opacity="0.18" stroke-width="0.9"/><circle cx="32.6" cy="96.0" r="1.1" fill="#000" opacity="0.22"/><circle cx="35.4" cy="99.6" r="1.0" fill="#000" opacity="0.22"/><circle cx="34.6" cy="94.0" r="0.8" fill="#000" opacity="0.18"/></g>
<g transform="rotate(20 166.4 118)" filter="url(#b0_5)"><ellipse cx="166.4" cy="118" rx="5" ry="5" fill="#7e30ac" stroke="#000" stroke-opacity="0.18" stroke-width="0.9"/><circle cx="164.9" cy="117.2" r="1.1" fill="#000" opacity="0.22"/><circle cx="167.7" cy="119.5" r="1.0" fill="#000" opacity="0.22"/><circle cx="166.9" cy="116.0" r="0.8" fill="#000" opacity="0.18"/></g>
<path d="M43 78.9 L35.4 86.5 M36.5 82.7 L35.4 86.5 L39.2 85.4" stroke="#e8302a" stroke-width="1.1" fill="none"/>
<rect width="185.6" height="136" filter="url(#grain)" opacity="0.18"/>
<line x1="135.6" y1="131.1" x2="170.6" y2="131.1" stroke="#3a3a3a" stroke-width="1.1"/>
<text x="153.3" y="129.5" font-size="6.6" text-anchor="middle" fill="#1a1a1a">50 µm</text>
</svg>
<svg x="398.8" y="661" width="186" height="136" viewBox="0 0 186 136" overflow="hidden">
<rect width="186" height="136" fill="#d4dcd6"/>
<ellipse cx="60" cy="17" rx="14.850000000000001" ry="12.15" transform="rotate(0 60 17)" fill="#c6bcdc" opacity="0.75" filter="url(#b2_5)"/>
<ellipse cx="60" cy="17" rx="11" ry="9" transform="rotate(0 60 17)" fill="#b0a2d6" opacity="0.85" filter="url(#b1_5)"/>
<ellipse cx="60" cy="17" rx="6.6" ry="5.3999999999999995" transform="rotate(0 60 17)" fill="#9a88cc" opacity="0.8" filter="url(#b2)"/>
<path d="M102 52 Q136.3 30.8 116 4 Q84.5 15.6 102 52Z" fill="#c6bcdc" opacity="0.75" filter="url(#b2_5)"/>
<path d="M102 52 Q127.7 28.2 116 4 Q93.1 18.2 102 52Z" fill="#b0a2d6" opacity="0.85" filter="url(#b1_5)"/>
<path d="M105.36 40.480000000000004 Q119.9 29.1 113.76 11.680000000000001 Q99.2 23.1 105.36 40.480000000000004Z" fill="#9a88cc" opacity="0.8" filter="url(#b2)"/>
<path d="M118 20 Q128.6 25.0 140 22 Q129.4 17.0 118 20Z" fill="#c6bcdc" opacity="0.7" filter="url(#b1_5)"/>
<path d="M0 24 Q-4.2 52.8 24 60 Q28.2 31.2 0 24Z" fill="#c6bcdc" opacity="0.75" filter="url(#b2_5)"/>
<path d="M0 24 Q1.2 49.2 24 60 Q22.8 34.8 0 24Z" fill="#b0a2d6" opacity="0.85" filter="url(#b1_5)"/>
<path d="M4.800000000000001 31.200000000000003 Q5.5 46.3 19.2 52.8 Q18.5 37.7 4.800000000000001 31.200000000000003Z" fill="#9a88cc" opacity="0.8" filter="url(#b2)"/>
<path d="M17 58 Q14.0 69.8 15 82 Q18.0 70.2 17 58Z" fill="#b0a2d6" opacity="0.7" filter="url(#b0_5)"/>
<path d="M42 54 Q42.9 79.2 68 82 Q67.1 56.8 42 54Z" fill="#c6bcdc" opacity="0.75" filter="url(#b2_5)"/>
<path d="M42 54 Q46.9 75.5 68 82 Q63.1 60.5 42 54Z" fill="#b0a2d6" opacity="0.85" filter="url(#b1_5)"/>
<path d="M47.2 59.6 Q50.2 72.5 62.8 76.4 Q59.8 63.5 47.2 59.6Z" fill="#9a88cc" opacity="0.4" filter="url(#b2)"/>
<path d="M82 64 Q88.8 83.7 112 74 Q99.2 52.3 82 64Z" fill="#c6bcdc" opacity="0.75" filter="url(#b2_5)"/>
<path d="M82 64 Q90.5 78.4 112 74 Q97.5 57.6 82 64Z" fill="#b0a2d6" opacity="0.85" filter="url(#b1_5)"/>
<path d="M86.8 65.6 Q93.7 74.9 104.8 71.6 Q97.9 62.3 86.8 65.6Z" fill="#9a88cc" opacity="0.8" filter="url(#b2)"/>
<path d="M36 90 Q34.7 133.6 70 136 Q78.1 101.6 36 90Z" fill="#c6bcdc" opacity="0.75" filter="url(#b2_5)"/>
<path d="M36 90 Q41.9 128.3 70 136 Q70.9 106.9 36 90Z" fill="#b0a2d6" opacity="0.85" filter="url(#b1_5)"/>
<path d="M44.16 101.03999999999999 Q45.7 121.3 64.56 128.64 Q63.0 108.4 44.16 101.03999999999999Z" fill="#9a88cc" opacity="0.8" filter="url(#b2)"/>
<path d="M0 106 Q6.5 121.4 36 120 Q15.1 99.0 0 106Z" fill="#c6bcdc" opacity="0.75" filter="url(#b2_5)"/>
<path d="M0 106 Q7.9 117.7 36 120 Q13.7 102.7 0 106Z" fill="#b0a2d6" opacity="0.85" filter="url(#b1_5)"/>
<path d="M4.319999999999999 107.68 Q13.4 116.4 25.92 116.08 Q16.9 107.4 4.319999999999999 107.68Z" fill="#9a88cc" opacity="0.8" filter="url(#b2)"/>
<path d="M0 125 Q12.2 149.6 36 136 Q23.8 111.4 0 125Z" fill="#c6bcdc" opacity="0.6" filter="url(#b3)"/>
<ellipse cx="112" cy="104" rx="9" ry="8" transform="rotate(0 112 104)" fill="#c6bcdc" opacity="0.7" filter="url(#b2)"/>
<ellipse cx="178" cy="85" rx="10" ry="22" transform="rotate(0 178 85)" fill="#c6bcdc" opacity="0.35" filter="url(#b4)"/>
<circle cx="102.4" cy="69.4" r="0.8" fill="#3a2878"/>
<circle cx="103.4" cy="72.7" r="0.8" fill="#3a2878"/>
<circle cx="105.6" cy="69.9" r="0.8" fill="#3a2878"/>
<circle cx="102.7" cy="69.7" r="0.8" fill="#3a2878"/>
<circle cx="106.0" cy="72.2" r="0.8" fill="#3a2878"/>
<circle cx="102.2" cy="70.2" r="0.8" fill="#3a2878"/>
<circle cx="105.4" cy="72.4" r="0.8" fill="#3a2878"/>
<circle cx="101.5" cy="71.4" r="0.8" fill="#3a2878"/>
<g transform="rotate(0 58.3 15.5)" filter="url(#b0_5)"><ellipse cx="58.3" cy="15.5" rx="5" ry="4.7" fill="#a83cb0" stroke="#000" stroke-opacity="0.18" stroke-width="0.9"/><circle cx="56.8" cy="14.8" r="1.0" fill="#000" opacity="0.22"/><circle cx="59.5" cy="16.9" r="0.9" fill="#000" opacity="0.22"/><circle cx="58.8" cy="13.6" r="0.8" fill="#000" opacity="0.18"/></g>
<g transform="rotate(0 112.4 37.1)" filter="url(#b0_5)"><ellipse cx="112.4" cy="37.1" rx="5" ry="4.7" fill="#a83cb0" stroke="#000" stroke-opacity="0.18" stroke-width="0.9"/><circle cx="110.9" cy="36.4" r="1.0" fill="#000" opacity="0.22"/><circle cx="113.7" cy="38.5" r="0.9" fill="#000" opacity="0.22"/><circle cx="112.9" cy="35.2" r="0.8" fill="#000" opacity="0.18"/></g>
<g transform="rotate(-20 10.4 43.9)" filter="url(#b0_5)"><ellipse cx="10.4" cy="43.9" rx="5" ry="6.5" fill="#a83cb0" stroke="#000" stroke-opacity="0.18" stroke-width="0.9"/><circle cx="8.9" cy="42.9" r="1.1" fill="#000" opacity="0.22"/><circle cx="11.7" cy="45.9" r="1.0" fill="#000" opacity="0.22"/><circle cx="10.9" cy="41.3" r="0.8" fill="#000" opacity="0.18"/></g>
<g transform="rotate(-30 54.7 72.7)" filter="url(#b0_5)"><ellipse cx="54.7" cy="72.7" rx="5" ry="6" fill="#a83cb0" stroke="#000" stroke-opacity="0.18" stroke-width="0.9"/><circle cx="53.2" cy="71.8" r="1.1" fill="#000" opacity="0.22"/><circle cx="56.0" cy="74.5" r="1.0" fill="#000" opacity="0.22"/><circle cx="55.2" cy="70.3" r="0.8" fill="#000" opacity="0.18"/></g>
<g transform="rotate(0 97.3 69.1)" filter="url(#b0_5)"><ellipse cx="97.3" cy="69.1" rx="5.8" ry="4.7" fill="#a83cb0" stroke="#000" stroke-opacity="0.18" stroke-width="0.9"/><circle cx="95.6" cy="68.4" r="1.0" fill="#000" opacity="0.22"/><circle cx="98.8" cy="70.5" r="0.9" fill="#000" opacity="0.22"/><circle cx="97.9" cy="67.2" r="0.8" fill="#000" opacity="0.18"/></g>
<g transform="rotate(0 115.7 105.8)" filter="url(#b0_5)"><ellipse cx="115.7" cy="105.8" rx="5.8" ry="5.4" fill="#3c1468" stroke="#000" stroke-opacity="0.18" stroke-width="0.9"/><circle cx="114.0" cy="105.0" r="1.2" fill="#000" opacity="0.22"/><circle cx="117.2" cy="107.4" r="1.1" fill="#000" opacity="0.22"/><circle cx="116.3" cy="103.6" r="0.9" fill="#000" opacity="0.18"/></g>
<g transform="rotate(0 55.4 114.5)" filter="url(#b0_5)"><ellipse cx="55.4" cy="114.5" rx="5.4" ry="5.8" fill="#a83cb0" stroke="#000" stroke-opacity="0.18" stroke-width="0.9"/><circle cx="53.8" cy="113.6" r="1.2" fill="#000" opacity="0.22"/><circle cx="56.8" cy="116.2" r="1.1" fill="#000" opacity="0.22"/><circle cx="55.9" cy="112.2" r="0.9" fill="#000" opacity="0.18"/></g>
<g transform="rotate(0 56.6 126.4)" filter="url(#b0_5)"><ellipse cx="56.6" cy="126.4" rx="6" ry="5" fill="#a83cb0" stroke="#000" stroke-opacity="0.18" stroke-width="0.9"/><circle cx="54.8" cy="125.7" r="1.1" fill="#000" opacity="0.22"/><circle cx="58.1" cy="127.9" r="1.0" fill="#000" opacity="0.22"/><circle cx="57.2" cy="124.4" r="0.8" fill="#000" opacity="0.18"/></g>
<g transform="rotate(0 2.2 113)" filter="url(#b0_5)"><ellipse cx="2.2" cy="113" rx="3.5" ry="4" fill="#8a2aa0" stroke="#000" stroke-opacity="0.18" stroke-width="0.9"/><circle cx="1.2" cy="112.4" r="0.8" fill="#000" opacity="0.22"/><circle cx="3.1" cy="114.2" r="0.7" fill="#000" opacity="0.22"/><circle cx="2.6" cy="111.4" r="0.6" fill="#000" opacity="0.18"/></g>
<path d="M114.8 58.1 L106.9 65.7 M108.1 61.9 L106.9 65.7 L110.8 64.6" stroke="#e8302a" stroke-width="1.1" fill="none"/>
<rect width="186" height="136" filter="url(#grain)" opacity="0.18"/>
<line x1="136" y1="131.1" x2="171" y2="131.1" stroke="#3a3a3a" stroke-width="1.1"/>
<text x="153.7" y="129.5" font-size="6.6" text-anchor="middle" fill="#1a1a1a">50 µm</text>
</svg>
<svg x="590.3" y="661" width="185.7" height="136" viewBox="0 0 185.7 136" overflow="hidden">
<rect width="185.7" height="136" fill="#d8dfd2"/>
<path d="M30 14 Q64.1 17.3 80 -2 Q55.9 -8.5 30 14Z" fill="#c0bcdc" opacity="0.75" filter="url(#b2_5)"/>
<path d="M30 14 Q62.7 13.0 80 -2 Q57.3 -4.2 30 14Z" fill="#a8a0d6" opacity="0.85" filter="url(#b1_5)"/>
<path d="M42.0 10.16 Q58.6 10.5 72.0 0.5600000000000005 Q55.4 0.2 42.0 10.16Z" fill="#8a80cc" opacity="0.8" filter="url(#b2)"/>
<path d="M0 60 Q31.9 68.7 50 41 Q18.1 32.3 0 60Z" fill="#c0bcdc" opacity="0.75" filter="url(#b2_5)"/>
<path d="M0 60 Q29.6 62.7 50 41 Q20.4 38.3 0 60Z" fill="#a8a0d6" opacity="0.85" filter="url(#b1_5)"/>
<path d="M10.0 56.2 Q27.8 57.8 40.0 44.8 Q22.2 43.2 10.0 56.2Z" fill="#8a80cc" opacity="0.8" filter="url(#b2)"/>
<path d="M38 60 Q44.3 85.9 70 93 Q63.7 67.1 38 60Z" fill="#c0bcdc" opacity="0.75" filter="url(#b2_5)"/>
<path d="M38 60 Q47.5 82.8 70 93 Q60.5 70.2 38 60Z" fill="#a8a0d6" opacity="0.85" filter="url(#b1_5)"/>
<path d="M44.4 66.6 Q50.1 80.3 63.6 86.4 Q57.9 72.7 44.4 66.6Z" fill="#8a80cc" opacity="0.8" filter="url(#b2)"/>
<path d="M0 96 Q18.5 107.7 48 99 Q19.9 86.7 0 96Z" fill="#c0bcdc" opacity="0.75" filter="url(#b2_5)"/>
<path d="M0 96 Q18.8 104.2 48 99 Q19.6 90.2 0 96Z" fill="#a8a0d6" opacity="0.85" filter="url(#b1_5)"/>
<path d="M7.6800000000000015 96.48 Q21.8 101.6 36.480000000000004 98.28 Q22.3 93.2 7.6800000000000015 96.48Z" fill="#8a80cc" opacity="0.8" filter="url(#b2)"/>
<path d="M0 107 Q8.1 112.9 18 111 Q9.9 105.1 0 107Z" fill="#c0bcdc" opacity="0.8" filter="url(#b1_5)"/>
<path d="M88 108 Q149.0 86.5 145 22 Q84.0 43.5 88 108Z" fill="#c0bcdc" opacity="0.75" filter="url(#b2_5)"/>
<path d="M88 108 Q138.2 79.4 145 22 Q94.8 50.6 88 108Z" fill="#a8a0d6" opacity="0.85" filter="url(#b1_5)"/>
<path d="M99.4 90.8 Q129.5 73.6 133.6 39.2 Q103.5 56.4 99.4 90.8Z" fill="#8a80cc" opacity="0.8" filter="url(#b2)"/>
<path d="M144 88 Q176.3 98.0 186 62 Q149.5 54.6 144 88Z" fill="#c0bcdc" opacity="0.75" filter="url(#b2_5)"/>
<path d="M144 88 Q171.8 90.8 186 62 Q154.0 61.8 144 88Z" fill="#a8a0d6" opacity="0.85" filter="url(#b1_5)"/>
<path d="M151.56 83.32 Q169.5 84.2 176.76 67.72 Q158.8 66.8 151.56 83.32Z" fill="#8a80cc" opacity="0.8" filter="url(#b2)"/>
<circle cx="108.9" cy="55.9" r="0.9" fill="#3a2878"/>
<circle cx="111.2" cy="53.0" r="1.17" fill="#f4f0f8" opacity="0.9"/>
<circle cx="107.4" cy="54.8" r="0.9" fill="#3a2878"/>
<circle cx="111.6" cy="54.8" r="0.9" fill="#3a2878"/>
<circle cx="108.9" cy="51.2" r="0.9" fill="#3a2878"/>
<circle cx="112.0" cy="50.4" r="0.9" fill="#3a2878"/>
<circle cx="108.6" cy="50.7" r="0.9" fill="#3a2878"/>
<circle cx="109.4" cy="52.1" r="1.17" fill="#f4f0f8" opacity="0.9"/>
<circle cx="111.7" cy="50.3" r="0.9" fill="#3a2878"/>
<circle cx="113.0" cy="50.9" r="0.9" fill="#3a2878"/>
<circle cx="111.0" cy="55.3" r="0.9" fill="#3a2878"/>
<circle cx="110.3" cy="54.4" r="1.17" fill="#f4f0f8" opacity="0.9"/>
<circle cx="109.4" cy="53.1" r="0.9" fill="#3a2878"/>
<circle cx="110.9" cy="53.0" r="0.9" fill="#3a2878"/>
<circle cx="113.1" cy="53.2" r="0.9" fill="#3a2878"/>
<circle cx="110.2" cy="57.5" r="0.9" fill="#3a2878"/>
<circle cx="112.4" cy="50.2" r="0.9" fill="#3a2878"/>
<circle cx="110.3" cy="57.0" r="0.9" fill="#3a2878"/>
<circle cx="106.7" cy="54.1" r="0.9" fill="#3a2878"/>
<circle cx="111.0" cy="50.6" r="1.17" fill="#f4f0f8" opacity="0.9"/>
<circle cx="110.4" cy="56.1" r="0.9" fill="#3a2878"/>
<circle cx="108.3" cy="57.8" r="1.17" fill="#f4f0f8" opacity="0.9"/>
<circle cx="110.2" cy="51.1" r="0.9" fill="#3a2878"/>
<circle cx="112.4" cy="49.4" r="0.9" fill="#3a2878"/>
<circle cx="106.9" cy="53.9" r="0.9" fill="#3a2878"/>
<circle cx="110.1" cy="54.6" r="1.17" fill="#f4f0f8" opacity="0.9"/>
<circle cx="111.5" cy="56.5" r="0.9" fill="#3a2878"/>
<circle cx="109.2" cy="54.4" r="0.9" fill="#3a2878"/>
<circle cx="111.2" cy="52.5" r="0.9" fill="#3a2878"/>
<circle cx="112.9" cy="53.8" r="0.9" fill="#3a2878"/>
<circle cx="110.8" cy="54.8" r="1.17" fill="#f4f0f8" opacity="0.9"/>
<g transform="rotate(-5 24.8 51.8)" filter="url(#b0_5)"><ellipse cx="24.8" cy="51.8" rx="6.8" ry="5" fill="#a03cb4" stroke="#000" stroke-opacity="0.18" stroke-width="0.9"/><circle cx="22.8" cy="51.0" r="1.1" fill="#000" opacity="0.22"/><circle cx="26.5" cy="53.3" r="1.0" fill="#000" opacity="0.22"/><circle cx="25.5" cy="49.8" r="0.8" fill="#000" opacity="0.18"/></g>
<g transform="rotate(0 107 67.7)" filter="url(#b0_5)"><ellipse cx="107" cy="67.7" rx="7.2" ry="7.6" fill="#a03cb4" stroke="#000" stroke-opacity="0.18" stroke-width="0.9"/><circle cx="104.8" cy="66.6" r="1.6" fill="#000" opacity="0.22"/><circle cx="108.8" cy="70.0" r="1.4" fill="#000" opacity="0.22"/><circle cx="107.7" cy="64.7" r="1.2" fill="#000" opacity="0.18"/></g>
<g transform="rotate(-15 164.6 73.4)" filter="url(#b0_5)"><ellipse cx="164.6" cy="73.4" rx="6.8" ry="5" fill="#a03cb4" stroke="#000" stroke-opacity="0.18" stroke-width="0.9"/><circle cx="162.6" cy="72.7" r="1.1" fill="#000" opacity="0.22"/><circle cx="166.3" cy="74.9" r="1.0" fill="#000" opacity="0.22"/><circle cx="165.3" cy="71.4" r="0.8" fill="#000" opacity="0.18"/></g>
<g transform="rotate(40 56.1 79.9)" filter="url(#b0_5)"><ellipse cx="56.1" cy="79.9" rx="5.4" ry="4.7" fill="#a03cb4" stroke="#000" stroke-opacity="0.18" stroke-width="0.9"/><circle cx="54.5" cy="79.2" r="1.0" fill="#000" opacity="0.22"/><circle cx="57.5" cy="81.3" r="0.9" fill="#000" opacity="0.22"/><circle cx="56.6" cy="78.0" r="0.8" fill="#000" opacity="0.18"/></g>
<g transform="rotate(0 23.8 100.8)" filter="url(#b0_5)"><ellipse cx="23.8" cy="100.8" rx="5.8" ry="3.6" fill="#a03cb4" stroke="#000" stroke-opacity="0.18" stroke-width="0.9"/><circle cx="22.1" cy="100.3" r="0.8" fill="#000" opacity="0.22"/><circle cx="25.2" cy="101.9" r="0.7" fill="#000" opacity="0.22"/><circle cx="24.4" cy="99.4" r="0.6" fill="#000" opacity="0.18"/></g>
<g transform="rotate(0 69 -1)" filter="url(#b0_5)"><ellipse cx="69" cy="-1" rx="6" ry="4" fill="#8a34b0" stroke="#000" stroke-opacity="0.18" stroke-width="0.9"/><circle cx="67.2" cy="-1.6" r="0.9" fill="#000" opacity="0.22"/><circle cx="70.5" cy="0.2" r="0.8" fill="#000" opacity="0.22"/><circle cx="69.6" cy="-2.6" r="0.6" fill="#000" opacity="0.18"/></g>
<path d="M124.3 40.6 L118.3 47.8 M119.1 43.9 L118.3 47.8 L122.0 46.3" stroke="#e8302a" stroke-width="1.1" fill="none"/>
<rect width="185.7" height="136" filter="url(#grain)" opacity="0.18"/>
<line x1="135.7" y1="131.1" x2="170.7" y2="131.1" stroke="#3a3a3a" stroke-width="1.1"/>
<text x="153.39999999999998" y="129.5" font-size="6.6" text-anchor="middle" fill="#1a1a1a">50 µm</text>
</svg>
<svg x="16" y="805" width="186.2" height="137" viewBox="0 0 186.2 137" overflow="hidden">
<rect width="186.2" height="137" fill="#e4e2ea"/>
<ellipse cx="15" cy="95" rx="15" ry="30" transform="rotate(0 15 95)" fill="#ece6ee" opacity="0.7" filter="url(#b4)"/>
<ellipse cx="80" cy="82" rx="26" ry="14" transform="rotate(-30 80 82)" fill="#c8c6e6" opacity="0.7" filter="url(#b3)"/>
<ellipse cx="160" cy="45" rx="26" ry="12" transform="rotate(-25 160 45)" fill="#c8c6e6" opacity="0.7" filter="url(#b3)"/>
<ellipse cx="75" cy="128" rx="18" ry="10" transform="rotate(0 75 128)" fill="#c8c6e6" opacity="0.7" filter="url(#b3)"/>
<ellipse cx="12" cy="20" rx="12" ry="20" transform="rotate(0 12 20)" fill="#c8c6e6" opacity="0.6" filter="url(#b3)"/>
<ellipse cx="140" cy="125" rx="16" ry="12" transform="rotate(0 140 125)" fill="#c8c6e6" opacity="0.6" filter="url(#b3)"/>
<path d="M30 0 Q17.6 33.4 55 45 Q64.9 7.1 30 0Z" fill="#c8c6e6" opacity="0.75" filter="url(#b2_5)"/>
<path d="M30 0 Q25.5 29.0 55 45 Q57.0 11.5 30 0Z" fill="#a8a6dc" opacity="0.85" filter="url(#b1_5)"/>
<path d="M34.5 8.1 Q32.6 26.8 49.5 35.1 Q51.4 16.4 34.5 8.1Z" fill="#8480cc" opacity="0.8" filter="url(#b2)"/>
<path d="M58 0 Q64.5 35.1 100 32 Q93.5 -3.1 58 0Z" fill="#c8c6e6" opacity="0.75" filter="url(#b2_5)"/>
<path d="M58 0 Q69.3 28.7 100 32 Q88.7 3.3 58 0Z" fill="#a8a6dc" opacity="0.85" filter="url(#b1_5)"/>
<path d="M66.4 6.4 Q73.2 23.6 91.6 25.6 Q84.8 8.4 66.4 6.4Z" fill="#8480cc" opacity="0.8" filter="url(#b2)"/>
<path d="M108 4 Q134.5 33.8 172 20 Q145.5 -9.8 108 4Z" fill="#c8c6e6" opacity="0.75" filter="url(#b2_5)"/>
<path d="M108 4 Q136.4 26.6 172 20 Q143.6 -2.6 108 4Z" fill="#a8a6dc" opacity="0.85" filter="url(#b1_5)"/>
<path d="M120.8 7.2 Q137.8 20.7 159.2 16.8 Q142.2 3.3 120.8 7.2Z" fill="#8480cc" opacity="0.8" filter="url(#b2)"/>
<path d="M112 12 Q121.2 42.6 160 34 Q141.2 -1.0 112 12Z" fill="#c8c6e6" opacity="0.75" filter="url(#b2_5)"/>
<path d="M112 12 Q124.5 35.3 160 34 Q137.9 6.3 112 12Z" fill="#a8a6dc" opacity="0.85" filter="url(#b1_5)"/>
<path d="M119.67999999999999 15.52 Q130.1 30.8 148.48 28.72 Q138.1 13.4 119.67999999999999 15.52Z" fill="#8480cc" opacity="0.8" filter="url(#b2)"/>
<path d="M44 56 Q74.6 67.9 92 40 Q61.4 28.1 44 56Z" fill="#c8c6e6" opacity="0.75" filter="url(#b2_5)"/>
<path d="M44 56 Q72.4 61.3 92 40 Q63.6 34.7 44 56Z" fill="#a8a6dc" opacity="0.85" filter="url(#b1_5)"/>
<path d="M53.6 52.8 Q70.7 56.0 82.4 43.2 Q65.3 40.0 53.6 52.8Z" fill="#8480cc" opacity="0.8" filter="url(#b2)"/>
<path d="M100 58 Q97.3 93.5 136 104 Q135.1 63.9 100 58Z" fill="#c8c6e6" opacity="0.75" filter="url(#b2_5)"/>
<path d="M100 58 Q103.6 88.6 136 104 Q128.8 68.8 100 58Z" fill="#a8a6dc" opacity="0.85" filter="url(#b1_5)"/>
<path d="M106.48 66.28 Q109.7 86.0 128.08 93.88 Q124.8 74.2 106.48 66.28Z" fill="#8480cc" opacity="0.8" filter="url(#b2)"/>
<path d="M150 118 Q192.1 89.6 188 46 Q149.7 67.2 150 118Z" fill="#c8c6e6" opacity="0.75" filter="url(#b2_5)"/>
<path d="M150 118 Q185.1 85.9 188 46 Q156.7 70.9 150 118Z" fill="#a8a6dc" opacity="0.85" filter="url(#b1_5)"/>
<path d="M158.36 102.16 Q178.3 85.0 181.16 58.96000000000001 Q161.3 76.1 158.36 102.16Z" fill="#8480cc" opacity="0.8" filter="url(#b2)"/>
<ellipse cx="50" cy="105" rx="24.3" ry="32.400000000000006" transform="rotate(10 50 105)" fill="#c8c6e6" opacity="0.75" filter="url(#b2_5)"/>
<ellipse cx="50" cy="105" rx="18" ry="24" transform="rotate(10 50 105)" fill="#a8a6dc" opacity="0.85" filter="url(#b1_5)"/>
<ellipse cx="50" cy="105" rx="10.799999999999999" ry="14.399999999999999" transform="rotate(10 50 105)" fill="#8480cc" opacity="0.8" filter="url(#b2)"/>
<ellipse cx="98" cy="120" rx="27.0" ry="24.3" transform="rotate(-20 98 120)" fill="#c8c6e6" opacity="0.75" filter="url(#b2_5)"/>
<ellipse cx="98" cy="120" rx="20" ry="18" transform="rotate(-20 98 120)" fill="#a8a6dc" opacity="0.85" filter="url(#b1_5)"/>
<ellipse cx="98" cy="120" rx="12.0" ry="10.799999999999999" transform="rotate(-20 98 120)" fill="#8480cc" opacity="0.8" filter="url(#b2)"/>
<path d="M0 38 Q14.9 35.1 14 20 Q-0.9 22.9 0 38Z" fill="#8480cc" opacity="0.8" filter="url(#b2)"/>
<g transform="rotate(5 42.1 22.5)" filter="url(#b0_5)"><ellipse cx="42.1" cy="22.5" rx="4.3" ry="7.2" fill="#8a2ca8" stroke="#000" stroke-opacity="0.18" stroke-width="0.9"/><circle cx="40.8" cy="21.4" r="0.9" fill="#000" opacity="0.22"/><circle cx="43.2" cy="24.7" r="0.9" fill="#000" opacity="0.22"/><circle cx="42.5" cy="19.6" r="0.7" fill="#000" opacity="0.18"/></g>
<g transform="rotate(30 85.3 21.5)" filter="url(#b0_5)"><ellipse cx="85.3" cy="21.5" rx="7.2" ry="5.6" fill="#8a2ca8" stroke="#000" stroke-opacity="0.18" stroke-width="0.9"/><circle cx="83.1" cy="20.7" r="1.2" fill="#000" opacity="0.22"/><circle cx="87.1" cy="23.2" r="1.1" fill="#000" opacity="0.22"/><circle cx="86.0" cy="19.3" r="0.9" fill="#000" opacity="0.18"/></g>
<g transform="rotate(15 128.5 22.5)" filter="url(#b0_5)"><ellipse cx="128.5" cy="22.5" rx="8" ry="5.4" fill="#8a2ca8" stroke="#000" stroke-opacity="0.18" stroke-width="0.9"/><circle cx="126.1" cy="21.7" r="1.2" fill="#000" opacity="0.22"/><circle cx="130.5" cy="24.1" r="1.1" fill="#000" opacity="0.22"/><circle cx="129.3" cy="20.3" r="0.9" fill="#000" opacity="0.18"/></g>
<g transform="rotate(10 148.1 11.6)" filter="url(#b0_5)"><ellipse cx="148.1" cy="11.6" rx="8" ry="4.4" fill="#8a2ca8" stroke="#000" stroke-opacity="0.18" stroke-width="0.9"/><circle cx="145.7" cy="10.9" r="1.0" fill="#000" opacity="0.22"/><circle cx="150.1" cy="12.9" r="0.9" fill="#000" opacity="0.22"/><circle cx="148.9" cy="9.8" r="0.7" fill="#000" opacity="0.18"/></g>
<g transform="rotate(-10 69.1 47.6)" filter="url(#b0_5)"><ellipse cx="69.1" cy="47.6" rx="7.2" ry="5" fill="#8a2ca8" stroke="#000" stroke-opacity="0.18" stroke-width="0.9"/><circle cx="66.9" cy="46.9" r="1.1" fill="#000" opacity="0.22"/><circle cx="70.9" cy="49.1" r="1.0" fill="#000" opacity="0.22"/><circle cx="69.8" cy="45.6" r="0.8" fill="#000" opacity="0.18"/></g>
<g transform="rotate(51 115.9 79.8)" filter="url(#b0_5)"><ellipse cx="115.9" cy="79.8" rx="8" ry="5.5" fill="#8a2ca8" stroke="#000" stroke-opacity="0.18" stroke-width="0.9"/><circle cx="113.5" cy="79.0" r="1.2" fill="#000" opacity="0.22"/><circle cx="117.9" cy="81.5" r="1.1" fill="#000" opacity="0.22"/><circle cx="116.7" cy="77.6" r="0.9" fill="#000" opacity="0.18"/></g>
<g transform="rotate(-56 162.4 90)" filter="url(#b0_5)"><ellipse cx="162.4" cy="90" rx="8" ry="5.5" fill="#8a2ca8" stroke="#000" stroke-opacity="0.18" stroke-width="0.9"/><circle cx="160.0" cy="89.2" r="1.2" fill="#000" opacity="0.22"/><circle cx="164.4" cy="91.7" r="1.1" fill="#000" opacity="0.22"/><circle cx="163.2" cy="87.8" r="0.9" fill="#000" opacity="0.18"/></g>
<g transform="rotate(20 49.3 103.7)" filter="url(#b0_5)"><ellipse cx="49.3" cy="103.7" rx="6.5" ry="7.6" fill="#8a2ca8" stroke="#000" stroke-opacity="0.18" stroke-width="0.9"/><circle cx="47.3" cy="102.6" r="1.4" fill="#000" opacity="0.22"/><circle cx="50.9" cy="106.0" r="1.3" fill="#000" opacity="0.22"/><circle cx="49.9" cy="100.7" r="1.0" fill="#000" opacity="0.18"/></g>
<g transform="rotate(0 100.3 125.5)" filter="url(#b0_5)"><ellipse cx="100.3" cy="125.5" rx="6.5" ry="8" fill="#8a2ca8" stroke="#000" stroke-opacity="0.18" stroke-width="0.9"/><circle cx="98.3" cy="124.3" r="1.4" fill="#000" opacity="0.22"/><circle cx="101.9" cy="127.9" r="1.3" fill="#000" opacity="0.22"/><circle cx="101.0" cy="122.3" r="1.0" fill="#000" opacity="0.18"/></g>
<g transform="rotate(0 185 59.8)" filter="url(#b0_5)"><ellipse cx="185" cy="59.8" rx="3" ry="6" fill="#8a2ca8" stroke="#000" stroke-opacity="0.18" stroke-width="0.9"/><circle cx="184.1" cy="58.9" r="0.7" fill="#000" opacity="0.22"/><circle cx="185.8" cy="61.6" r="0.6" fill="#000" opacity="0.22"/><circle cx="185.3" cy="57.4" r="0.5" fill="#000" opacity="0.18"/></g>
<rect width="186.2" height="137" filter="url(#grain)" opacity="0.18"/>
<line x1="136.2" y1="132.1" x2="171.2" y2="132.1" stroke="#3a3a3a" stroke-width="1.1"/>
<text x="153.89999999999998" y="130.5" font-size="6.6" text-anchor="middle" fill="#1a1a1a">50 µm</text>
</svg>
<svg x="207.5" y="805" width="185.6" height="137" viewBox="0 0 185.6 137" overflow="hidden">
<rect width="185.6" height="137" fill="#dce3d8"/>
<ellipse cx="40" cy="70" rx="48" ry="72" transform="rotate(0 40 70)" fill="#cfcce2" opacity="0.9" filter="url(#b6)"/>
<ellipse cx="35" cy="70" rx="30" ry="55" transform="rotate(0 35 70)" fill="#c8c4e0" opacity="0.7" filter="url(#b4)"/>
<ellipse cx="62" cy="42" rx="26" ry="16" transform="rotate(-35 62 42)" fill="#c8c4e0" opacity="0.75" filter="url(#b4)"/>
<ellipse cx="100" cy="110" rx="14" ry="22" transform="rotate(0 100 110)" fill="#c8c4e0" opacity="0.6" filter="url(#b4)"/>
<path d="M0 14 Q-4.3 37.1 14 52 Q18.3 28.9 0 14Z" fill="#8c86cc" opacity="0.8" filter="url(#b2)"/>
<ellipse cx="40" cy="6" rx="10.8" ry="8.100000000000001" transform="rotate(20 40 6)" fill="#c8c4e0" opacity="0.75" filter="url(#b2_5)"/>
<ellipse cx="40" cy="6" rx="8" ry="6" transform="rotate(20 40 6)" fill="#aca8dc" opacity="0.85" filter="url(#b1_5)"/>
<ellipse cx="40" cy="6" rx="4.8" ry="3.5999999999999996" transform="rotate(20 40 6)" fill="#8c86cc" opacity="0.8" filter="url(#b2)"/>
<path d="M22 8 Q17.8 31.4 46 32 Q45.4 3.8 22 8Z" fill="#c8c4e0" opacity="0.75" filter="url(#b2_5)"/>
<path d="M22 8 Q22.4 26.8 46 32 Q40.8 8.4 22 8Z" fill="#aca8dc" opacity="0.85" filter="url(#b1_5)"/>
<path d="M25.84 11.84 Q27.5 24.6 40.24 26.240000000000002 Q38.6 13.5 25.84 11.84Z" fill="#8c86cc" opacity="0.8" filter="url(#b2)"/>
<ellipse cx="27" cy="41" rx="10.8" ry="10.8" transform="rotate(0 27 41)" fill="#c8c4e0" opacity="0.75" filter="url(#b2_5)"/>
<ellipse cx="27" cy="41" rx="8" ry="8" transform="rotate(0 27 41)" fill="#aca8dc" opacity="0.85" filter="url(#b1_5)"/>
<ellipse cx="27" cy="41" rx="4.8" ry="4.8" transform="rotate(0 27 41)" fill="#8c86cc" opacity="0.8" filter="url(#b2)"/>
<path d="M70 56 Q78.4 84.8 118 92 Q100.0 56.0 70 56Z" fill="#c8c4e0" opacity="0.75" filter="url(#b2_5)"/>
<path d="M70 56 Q82.0 80.0 118 92 Q96.4 60.8 70 56Z" fill="#aca8dc" opacity="0.85" filter="url(#b1_5)"/>
<path d="M77.68 61.760000000000005 Q87.8 78.3 106.48 83.36 Q96.4 66.8 77.68 61.760000000000005Z" fill="#8c86cc" opacity="0.8" filter="url(#b2)"/>
<path d="M132 45 Q120.3 83.5 144 116 Q155.7 77.5 132 45Z" fill="#c8c4e0" opacity="0.75" filter="url(#b2_5)"/>
<path d="M132 45 Q126.2 82.5 144 116 Q149.8 78.5 132 45Z" fill="#aca8dc" opacity="0.85" filter="url(#b1_5)"/>
<path d="M134.4 59.2 Q130.9 81.7 141.6 101.8 Q145.1 79.3 134.4 59.2Z" fill="#8c86cc" opacity="0.8" filter="url(#b2)"/>
<ellipse cx="34" cy="86" rx="12.15" ry="14.850000000000001" transform="rotate(0 34 86)" fill="#c8c4e0" opacity="0.75" filter="url(#b2_5)"/>
<ellipse cx="34" cy="86" rx="9" ry="11" transform="rotate(0 34 86)" fill="#aca8dc" opacity="0.85" filter="url(#b1_5)"/>
<ellipse cx="34" cy="86" rx="5.3999999999999995" ry="6.6" transform="rotate(0 34 86)" fill="#8c86cc" opacity="0.8" filter="url(#b2)"/>
<path d="M43 81 Q36.0 109.5 64 128 Q68.9 94.8 43 81Z" fill="#c8c4e0" opacity="0.75" filter="url(#b2_5)"/>
<path d="M43 81 Q41.5 107.0 64 128 Q63.4 97.3 43 81Z" fill="#aca8dc" opacity="0.85" filter="url(#b1_5)"/>
<path d="M46.78 89.46000000000001 Q46.5 106.5 59.38 117.66 Q59.7 100.6 46.78 89.46000000000001Z" fill="#8c86cc" opacity="0.8" filter="url(#b2)"/>
<path d="M65 94 Q60.1 118.9 90 131 Q89.9 98.7 65 94Z" fill="#c8c4e0" opacity="0.75" filter="url(#b2_5)"/>
<path d="M65 94 Q65.1 115.5 90 131 Q84.9 102.1 65 94Z" fill="#aca8dc" opacity="0.85" filter="url(#b1_5)"/>
<path d="M69.0 99.92 Q70.5 115.1 84.0 122.12 Q82.5 107.0 69.0 99.92Z" fill="#8c86cc" opacity="0.8" filter="url(#b2)"/>
<ellipse cx="18" cy="120" rx="14.850000000000001" ry="12.15" transform="rotate(20 18 120)" fill="#c8c4e0" opacity="0.75" filter="url(#b2_5)"/>
<ellipse cx="18" cy="120" rx="11" ry="9" transform="rotate(20 18 120)" fill="#aca8dc" opacity="0.85" filter="url(#b1_5)"/>
<ellipse cx="18" cy="120" rx="6.6" ry="5.3999999999999995" transform="rotate(20 18 120)" fill="#8c86cc" opacity="0.8" filter="url(#b2)"/>
<path d="M0 82 Q2.4 98.6 19 101 Q16.6 84.4 0 82Z" fill="#aca8dc" opacity="0.6" filter="url(#b2)"/>
<circle cx="90.5" cy="61.7" r="0.8" fill="#3a2878"/>
<circle cx="88.6" cy="61.7" r="0.8" fill="#3a2878"/>
<circle cx="90.4" cy="58.7" r="0.8" fill="#3a2878"/>
<circle cx="91.9" cy="58.3" r="0.8" fill="#3a2878"/>
<circle cx="87.0" cy="60.7" r="0.8" fill="#3a2878"/>
<circle cx="86.3" cy="59.6" r="0.8" fill="#3a2878"/>
<circle cx="92.0" cy="59.0" r="0.8" fill="#3a2878"/>
<circle cx="93.9" cy="60.6" r="0.8" fill="#3a2878"/>
<circle cx="89.9" cy="61.0" r="0.8" fill="#3a2878"/>
<circle cx="93.3" cy="63.0" r="0.8" fill="#3a2878"/>
<circle cx="93.9" cy="61.1" r="0.8" fill="#3a2878"/>
<circle cx="88.0" cy="56.8" r="0.8" fill="#3a2878"/>
<circle cx="88.0" cy="59.5" r="0.8" fill="#3a2878"/>
<circle cx="91.9" cy="60.2" r="0.8" fill="#3a2878"/>
<circle cx="92.8" cy="61.5" r="0.8" fill="#3a2878"/>
<circle cx="89.3" cy="60.8" r="0.8" fill="#3a2878"/>
<circle cx="91.3" cy="62.7" r="0.8" fill="#3a2878"/>
<circle cx="92.8" cy="60.9" r="0.8" fill="#3a2878"/>
<g transform="rotate(20 41.4 5.1)" filter="url(#b0_5)"><ellipse cx="41.4" cy="5.1" rx="5.8" ry="4.3" fill="#a038b8" stroke="#000" stroke-opacity="0.18" stroke-width="0.9"/><circle cx="39.7" cy="4.5" r="0.9" fill="#000" opacity="0.22"/><circle cx="42.9" cy="6.4" r="0.9" fill="#000" opacity="0.22"/><circle cx="42.0" cy="3.4" r="0.7" fill="#000" opacity="0.18"/></g>
<g transform="rotate(-20 31.9 17.1)" filter="url(#b0_5)"><ellipse cx="31.9" cy="17.1" rx="5" ry="5.8" fill="#a038b8" stroke="#000" stroke-opacity="0.18" stroke-width="0.9"/><circle cx="30.4" cy="16.2" r="1.1" fill="#000" opacity="0.22"/><circle cx="33.1" cy="18.8" r="1.0" fill="#000" opacity="0.22"/><circle cx="32.4" cy="14.8" r="0.8" fill="#000" opacity="0.18"/></g>
<g transform="rotate(0 3.6 33.4)" filter="url(#b0_5)"><ellipse cx="3.6" cy="33.4" rx="3.3" ry="7.3" fill="#a038b8" stroke="#000" stroke-opacity="0.18" stroke-width="0.9"/><circle cx="2.6" cy="32.3" r="0.7" fill="#000" opacity="0.22"/><circle cx="4.4" cy="35.6" r="0.7" fill="#000" opacity="0.22"/><circle cx="3.9" cy="30.5" r="0.5" fill="#000" opacity="0.18"/></g>
<g transform="rotate(0 26.8 41.4)" filter="url(#b0_5)"><ellipse cx="26.8" cy="41.4" rx="4.7" ry="4.4" fill="#a038b8" stroke="#000" stroke-opacity="0.18" stroke-width="0.9"/><circle cx="25.4" cy="40.7" r="1.0" fill="#000" opacity="0.22"/><circle cx="28.0" cy="42.7" r="0.9" fill="#000" opacity="0.22"/><circle cx="27.3" cy="39.6" r="0.7" fill="#000" opacity="0.18"/></g>
<g transform="rotate(0 98.1 69.6)" filter="url(#b0_5)"><ellipse cx="98.1" cy="69.6" rx="5.8" ry="5.8" fill="#a038b8" stroke="#000" stroke-opacity="0.18" stroke-width="0.9"/><circle cx="96.4" cy="68.7" r="1.3" fill="#000" opacity="0.22"/><circle cx="99.5" cy="71.3" r="1.2" fill="#000" opacity="0.22"/><circle cx="98.7" cy="67.3" r="0.9" fill="#000" opacity="0.18"/></g>
<g transform="rotate(15 83.4 74)" filter="url(#b0_5)"><ellipse cx="83.4" cy="74" rx="5.4" ry="4.4" fill="#a038b8" stroke="#000" stroke-opacity="0.18" stroke-width="0.9"/><circle cx="81.8" cy="73.3" r="1.0" fill="#000" opacity="0.22"/><circle cx="84.8" cy="75.3" r="0.9" fill="#000" opacity="0.22"/><circle cx="83.9" cy="72.2" r="0.7" fill="#000" opacity="0.18"/></g>
<g transform="rotate(0 137.3 84.9)" filter="url(#b0_5)"><ellipse cx="137.3" cy="84.9" rx="4.4" ry="6.9" fill="#a038b8" stroke="#000" stroke-opacity="0.18" stroke-width="0.9"/><circle cx="136.0" cy="83.9" r="1.0" fill="#000" opacity="0.22"/><circle cx="138.4" cy="87.0" r="0.9" fill="#000" opacity="0.22"/><circle cx="137.7" cy="82.1" r="0.7" fill="#000" opacity="0.18"/></g>
<g transform="rotate(0 34.1 85.6)" filter="url(#b0_5)"><ellipse cx="34.1" cy="85.6" rx="4.7" ry="4.7" fill="#a038b8" stroke="#000" stroke-opacity="0.18" stroke-width="0.9"/><circle cx="32.7" cy="84.9" r="1.0" fill="#000" opacity="0.22"/><circle cx="35.3" cy="87.0" r="0.9" fill="#000" opacity="0.22"/><circle cx="34.6" cy="83.7" r="0.8" fill="#000" opacity="0.18"/></g>
<g transform="rotate(0 54.4 100.8)" filter="url(#b0_5)"><ellipse cx="54.4" cy="100.8" rx="4.4" ry="8" fill="#a038b8" stroke="#000" stroke-opacity="0.18" stroke-width="0.9"/><circle cx="53.1" cy="99.6" r="1.0" fill="#000" opacity="0.22"/><circle cx="55.5" cy="103.2" r="0.9" fill="#000" opacity="0.22"/><circle cx="54.8" cy="97.6" r="0.7" fill="#000" opacity="0.18"/></g>
<g transform="rotate(0 78 115.6)" filter="url(#b0_5)"><ellipse cx="78" cy="115.6" rx="5.4" ry="5.4" fill="#a038b8" stroke="#000" stroke-opacity="0.18" stroke-width="0.9"/><circle cx="76.4" cy="114.8" r="1.2" fill="#000" opacity="0.22"/><circle cx="79.3" cy="117.2" r="1.1" fill="#000" opacity="0.22"/><circle cx="78.5" cy="113.4" r="0.9" fill="#000" opacity="0.18"/></g>
<g transform="rotate(30 18.1 120.4)" filter="url(#b0_5)"><ellipse cx="18.1" cy="120.4" rx="6" ry="5.8" fill="#a038b8" stroke="#000" stroke-opacity="0.18" stroke-width="0.9"/><circle cx="16.3" cy="119.5" r="1.3" fill="#000" opacity="0.22"/><circle cx="19.6" cy="122.1" r="1.2" fill="#000" opacity="0.22"/><circle cx="18.7" cy="118.1" r="0.9" fill="#000" opacity="0.18"/></g>
<path d="M101.6 47.8 L93.7 55.5 M94.9 51.7 L93.7 55.5 L97.6 54.4" stroke="#e8302a" stroke-width="1.1" fill="none"/>
<rect width="185.6" height="137" filter="url(#grain)" opacity="0.18"/>
<line x1="135.6" y1="132.1" x2="170.6" y2="132.1" stroke="#3a3a3a" stroke-width="1.1"/>
<text x="153.3" y="130.5" font-size="6.6" text-anchor="middle" fill="#1a1a1a">50 µm</text>
</svg>
<svg x="398.8" y="805" width="186" height="137" viewBox="0 0 186 137" overflow="hidden">
<rect width="186" height="137" fill="#cdd0cf"/>
<ellipse cx="95" cy="60" rx="75" ry="50" transform="rotate(0 95 60)" fill="#dcd6e2" opacity="0.8" filter="url(#b8)"/>
<ellipse cx="30" cy="100" rx="30" ry="30" transform="rotate(0 30 100)" fill="#d8d4e0" opacity="0.5" filter="url(#b8)"/>
<path d="M20 4 Q42.0 33.7 72 12 Q50.0 -17.7 20 4Z" fill="#c4bedc" opacity="0.8" filter="url(#b3)"/>
<path d="M88 0 Q91.9 20.3 112 8 Q103.3 -13.9 88 0Z" fill="#7e6ec4" opacity="0.85" filter="url(#b2)"/>
<path d="M128 -4 Q118.2 18.4 146 28 Q152.2 -0.8 128 -4Z" fill="#c4bedc" opacity="0.75" filter="url(#b2_5)"/>
<path d="M128 -4 Q123.9 15.2 146 28 Q146.5 2.4 128 -4Z" fill="#a496d4" opacity="0.85" filter="url(#b1_5)"/>
<path d="M130.88 1.120000000000001 Q129.5 14.5 141.68 20.32 Q143.1 6.9 130.88 1.120000000000001Z" fill="#7e6ec4" opacity="0.8" filter="url(#b2)"/>
<path d="M140 24 Q146.4 34.2 157 40 Q150.6 29.8 140 24Z" fill="#a496d4" opacity="0.7" filter="url(#b1)"/>
<path d="M152 50 Q163.9 71.0 186 50 Q163.9 29.0 152 50Z" fill="#c4bedc" opacity="0.75" filter="url(#b2_5)"/>
<path d="M152 50 Q163.9 64.0 186 50 Q163.9 36.0 152 50Z" fill="#a496d4" opacity="0.85" filter="url(#b1_5)"/>
<path d="M156.76 50.0 Q167.0 58.4 177.16 50.0 Q167.0 41.6 156.76 50.0Z" fill="#7e6ec4" opacity="0.8" filter="url(#b2)"/>
<path d="M40 48 Q33.5 80.9 70 86 Q73.5 49.3 40 48Z" fill="#c4bedc" opacity="0.75" filter="url(#b2_5)"/>
<path d="M40 48 Q40.2 75.6 70 86 Q66.8 54.6 40 48Z" fill="#a496d4" opacity="0.85" filter="url(#b1_5)"/>
<path d="M45.4 54.839999999999996 Q46.4 72.6 63.4 77.64 Q62.4 59.9 45.4 54.839999999999996Z" fill="#7e6ec4" opacity="0.95" filter="url(#b2)"/>
<path d="M92 52 Q78.3 102.2 134 116 Q143.5 59.4 92 52Z" fill="#c4bedc" opacity="0.75" filter="url(#b2_5)"/>
<path d="M92 52 Q89.2 95.1 134 116 Q132.6 66.5 92 52Z" fill="#a496d4" opacity="0.85" filter="url(#b1_5)"/>
<path d="M99.56 63.519999999999996 Q99.1 91.3 124.76 101.92 Q125.2 74.2 99.56 63.519999999999996Z" fill="#7e6ec4" opacity="0.95" filter="url(#b2)"/>
<path d="M134 62 Q119.3 106.0 168 122 Q179.3 72.0 134 62Z" fill="#c4bedc" opacity="0.75" filter="url(#b2_5)"/>
<path d="M134 62 Q129.3 100.3 168 122 Q169.3 77.7 134 62Z" fill="#a496d4" opacity="0.85" filter="url(#b1_5)"/>
<path d="M140.12 72.8 Q138.3 97.6 160.52 108.8 Q162.3 84.0 140.12 72.8Z" fill="#7e6ec4" opacity="0.95" filter="url(#b2)"/>
<circle cx="112.3" cy="85.3" r="0.9" fill="#3a2878"/>
<circle cx="107.7" cy="86.3" r="0.9" fill="#3a2878"/>
<circle cx="107.6" cy="86.0" r="1.17" fill="#f4f0f8" opacity="0.9"/>
<circle cx="113.9" cy="85.6" r="1.17" fill="#f4f0f8" opacity="0.9"/>
<circle cx="110.8" cy="90.7" r="1.17" fill="#f4f0f8" opacity="0.9"/>
<circle cx="109.1" cy="87.9" r="0.9" fill="#3a2878"/>
<circle cx="114.3" cy="88.8" r="0.9" fill="#3a2878"/>
<circle cx="111.9" cy="85.1" r="1.17" fill="#f4f0f8" opacity="0.9"/>
<circle cx="109.4" cy="89.8" r="1.17" fill="#f4f0f8" opacity="0.9"/>
<circle cx="113.4" cy="90.5" r="0.9" fill="#3a2878"/>
<circle cx="115.3" cy="86.3" r="1.17" fill="#f4f0f8" opacity="0.9"/>
<circle cx="108.7" cy="88.2" r="0.9" fill="#3a2878"/>
<circle cx="110.4" cy="88.3" r="0.9" fill="#3a2878"/>
<circle cx="109.4" cy="89.6" r="0.9" fill="#3a2878"/>
<circle cx="109.6" cy="87.7" r="0.9" fill="#3a2878"/>
<circle cx="116.6" cy="93.2" r="1.17" fill="#f4f0f8" opacity="0.9"/>
<circle cx="111.0" cy="90.2" r="1.17" fill="#f4f0f8" opacity="0.9"/>
<circle cx="114.7" cy="85.7" r="0.9" fill="#3a2878"/>
<circle cx="115.9" cy="91.4" r="0.9" fill="#3a2878"/>
<circle cx="110.0" cy="89.0" r="0.9" fill="#3a2878"/>
<circle cx="155.3" cy="101.6" r="1.17" fill="#f4f0f8" opacity="0.9"/>
<circle cx="156.1" cy="101.1" r="0.9" fill="#3a2878"/>
<circle cx="158.5" cy="100.0" r="1.17" fill="#f4f0f8" opacity="0.9"/>
<circle cx="156.7" cy="99.3" r="0.9" fill="#3a2878"/>
<circle cx="157.8" cy="96.9" r="1.17" fill="#f4f0f8" opacity="0.9"/>
<circle cx="160.2" cy="99.0" r="0.9" fill="#3a2878"/>
<circle cx="157.4" cy="101.5" r="0.9" fill="#3a2878"/>
<circle cx="160.5" cy="103.2" r="0.9" fill="#3a2878"/>
<circle cx="163.5" cy="99.9" r="1.17" fill="#f4f0f8" opacity="0.9"/>
<circle cx="163.5" cy="100.6" r="0.9" fill="#3a2878"/>
<circle cx="162.8" cy="98.3" r="0.9" fill="#3a2878"/>
<g transform="rotate(30 52.2 9)" filter="url(#b0_5)"><ellipse cx="52.2" cy="9" rx="7.5" ry="8.5" fill="#c06cc8" stroke="#000" stroke-opacity="0.18" stroke-width="0.9"/><circle cx="50.0" cy="7.7" r="1.6" fill="#000" opacity="0.22"/><circle cx="54.1" cy="11.6" r="1.5" fill="#000" opacity="0.22"/><circle cx="53.0" cy="5.6" r="1.2" fill="#000" opacity="0.18"/></g>
<g transform="rotate(0 101.7 2.9)" filter="url(#b0_5)"><ellipse cx="101.7" cy="2.9" rx="7" ry="5" fill="#4a1a80" stroke="#000" stroke-opacity="0.18" stroke-width="0.9"/><circle cx="99.6" cy="2.1" r="1.1" fill="#000" opacity="0.22"/><circle cx="103.5" cy="4.4" r="1.0" fill="#000" opacity="0.22"/><circle cx="102.4" cy="0.9" r="0.8" fill="#000" opacity="0.18"/></g>
<g transform="rotate(-15 135.1 8.7)" filter="url(#b0_5)"><ellipse cx="135.1" cy="8.7" rx="5.8" ry="8.7" fill="#9a3cb4" stroke="#000" stroke-opacity="0.18" stroke-width="0.9"/><circle cx="133.4" cy="7.4" r="1.3" fill="#000" opacity="0.22"/><circle cx="136.5" cy="11.3" r="1.2" fill="#000" opacity="0.22"/><circle cx="135.7" cy="5.2" r="0.9" fill="#000" opacity="0.18"/></g>
<g transform="rotate(0 167 50)" filter="url(#b0_5)"><ellipse cx="167" cy="50" rx="5" ry="5.8" fill="#9a3cb4" stroke="#000" stroke-opacity="0.18" stroke-width="0.9"/><circle cx="165.5" cy="49.1" r="1.1" fill="#000" opacity="0.22"/><circle cx="168.2" cy="51.7" r="1.0" fill="#000" opacity="0.22"/><circle cx="167.5" cy="47.7" r="0.8" fill="#000" opacity="0.18"/></g>
<g transform="rotate(20 57.3 65)" filter="url(#b0_5)"><ellipse cx="57.3" cy="65" rx="7.3" ry="5.8" fill="#9a3cb4" stroke="#000" stroke-opacity="0.18" stroke-width="0.9"/><circle cx="55.1" cy="64.1" r="1.3" fill="#000" opacity="0.22"/><circle cx="59.1" cy="66.7" r="1.2" fill="#000" opacity="0.22"/><circle cx="58.0" cy="62.7" r="0.9" fill="#000" opacity="0.18"/></g>
<g transform="rotate(20 105.3 74.7)" filter="url(#b0_5)"><ellipse cx="105.3" cy="74.7" rx="9.4" ry="8" fill="#9a3cb4" stroke="#000" stroke-opacity="0.18" stroke-width="0.9"/><circle cx="102.5" cy="73.5" r="1.8" fill="#000" opacity="0.22"/><circle cx="107.6" cy="77.1" r="1.6" fill="#000" opacity="0.22"/><circle cx="106.2" cy="71.5" r="1.3" fill="#000" opacity="0.18"/></g>
<g transform="rotate(-15 153.2 89.2)" filter="url(#b0_5)"><ellipse cx="153.2" cy="89.2" rx="7.3" ry="9.4" fill="#9a3cb4" stroke="#000" stroke-opacity="0.18" stroke-width="0.9"/><circle cx="151.0" cy="87.8" r="1.6" fill="#000" opacity="0.22"/><circle cx="155.0" cy="92.0" r="1.5" fill="#000" opacity="0.22"/><circle cx="153.9" cy="85.4" r="1.2" fill="#000" opacity="0.18"/></g>
<path d="M127.9 76.5 L119.5 84.9 M120.6 81.1 L119.5 84.9 L123.3 83.8" stroke="#e8302a" stroke-width="1.1" fill="none"/>
<path d="M172.6 90.8 L165 98.7 M166.1 94.8 L165 98.7 L168.8 97.5" stroke="#e8302a" stroke-width="1.1" fill="none"/>
<rect width="186" height="137" filter="url(#grain)" opacity="0.18"/>
<line x1="136" y1="132.1" x2="171" y2="132.1" stroke="#3a3a3a" stroke-width="1.1"/>
<text x="153.7" y="130.5" font-size="6.6" text-anchor="middle" fill="#1a1a1a">50 µm</text>
</svg>
<svg x="590.3" y="805" width="185.7" height="137" viewBox="0 0 185.7 137" overflow="hidden">
<rect width="185.7" height="137" fill="#d0d0d6"/>
<path d="M-4 40 Q42.2 40.9 70 4 Q23.8 3.1 -4 40Z" fill="#bab2da" opacity="0.75" filter="url(#b2_5)"/>
<path d="M-4 40 Q39.1 34.6 70 4 Q26.9 9.4 -4 40Z" fill="#9c92d2" opacity="0.85" filter="url(#b1_5)"/>
<path d="M10.8 32.8 Q36.7 29.6 55.2 11.200000000000001 Q29.3 14.4 10.8 32.8Z" fill="#7c70c4" opacity="0.8" filter="url(#b2)"/>
<path d="M100 34 Q135.5 30.6 150 -2 Q114.5 1.4 100 34Z" fill="#bab2da" opacity="0.8" filter="url(#b3)"/>
<ellipse cx="112" cy="100" rx="14" ry="14" transform="rotate(0 112 100)" fill="#bab2da" opacity="0.8" filter="url(#b3)"/>
<ellipse cx="178" cy="112" rx="10" ry="24" transform="rotate(0 178 112)" fill="#bab2da" opacity="0.8" filter="url(#b3)"/>
<ellipse cx="50" cy="95" rx="16" ry="8" transform="rotate(-20 50 95)" fill="#bab2da" opacity="0.8" filter="url(#b3)"/>
<ellipse cx="120" cy="130" rx="20" ry="8" transform="rotate(-10 120 130)" fill="#bab2da" opacity="0.7" filter="url(#b3)"/>
<ellipse cx="10" cy="125" rx="14" ry="12" transform="rotate(0 10 125)" fill="#bab2da" opacity="0.7" filter="url(#b3)"/>
<path d="M-4 48 Q-8.7 73.4 16 66 Q20.7 40.6 -4 48Z" fill="#7c70c4" opacity="0.8" filter="url(#b3)"/>
<ellipse cx="22" cy="70" rx="20" ry="32" transform="rotate(30 22 70)" fill="#e8e6ee" opacity="0.7" filter="url(#b4)"/>
<ellipse cx="46" cy="52" rx="22.950000000000003" ry="18.900000000000002" transform="rotate(-30 46 52)" fill="#bab2da" opacity="0.75" filter="url(#b2_5)"/>
<ellipse cx="46" cy="52" rx="17" ry="14" transform="rotate(-30 46 52)" fill="#9c92d2" opacity="0.85" filter="url(#b1_5)"/>
<ellipse cx="46" cy="52" rx="10.2" ry="8.4" transform="rotate(-30 46 52)" fill="#7c70c4" opacity="0.8" filter="url(#b2)"/>
<ellipse cx="73" cy="48" rx="9.450000000000001" ry="12.15" transform="rotate(0 73 48)" fill="#bab2da" opacity="0.75" filter="url(#b2_5)"/>
<ellipse cx="73" cy="48" rx="7" ry="9" transform="rotate(0 73 48)" fill="#9c92d2" opacity="0.85" filter="url(#b1_5)"/>
<ellipse cx="73" cy="48" rx="4.2" ry="5.3999999999999995" transform="rotate(0 73 48)" fill="#7c70c4" opacity="0.8" filter="url(#b2)"/>
<ellipse cx="90" cy="32" rx="8.100000000000001" ry="10.8" transform="rotate(0 90 32)" fill="#bab2da" opacity="0.75" filter="url(#b2_5)"/>
<ellipse cx="90" cy="32" rx="6" ry="8" transform="rotate(0 90 32)" fill="#9c92d2" opacity="0.85" filter="url(#b1_5)"/>
<ellipse cx="90" cy="32" rx="3.5999999999999996" ry="4.8" transform="rotate(0 90 32)" fill="#7c70c4" opacity="0.8" filter="url(#b2)"/>
<path d="M92 20 Q98.5 15.7 100 8 Q93.5 12.3 92 20Z" fill="#7c70c4" opacity="0.8" filter="url(#b1)"/>
<path d="M20 102 Q64.9 100.2 94 66 Q49.1 67.8 20 102Z" fill="#bab2da" opacity="0.75" filter="url(#b2_5)"/>
<path d="M20 102 Q62.2 94.8 94 66 Q51.8 73.2 20 102Z" fill="#9c92d2" opacity="0.85" filter="url(#b1_5)"/>
<path d="M34.8 94.8 Q60.1 90.5 79.2 73.2 Q53.9 77.5 34.8 94.8Z" fill="#7c70c4" opacity="0.8" filter="url(#b2)"/>
<path d="M116 70 Q154.8 73.6 160 35 Q121.2 31.4 116 70Z" fill="#bab2da" opacity="0.75" filter="url(#b2_5)"/>
<path d="M116 70 Q149.2 66.6 160 35 Q126.8 38.4 116 70Z" fill="#9c92d2" opacity="0.85" filter="url(#b1_5)"/>
<path d="M124.8 63.0 Q144.7 61.0 151.2 42.0 Q131.3 44.0 124.8 63.0Z" fill="#7c70c4" opacity="0.8" filter="url(#b2)"/>
<path d="M128 26 Q150.6 19.5 160 -2 Q137.4 4.5 128 26Z" fill="#bab2da" opacity="0.85" filter="url(#b2)"/>
<ellipse cx="36" cy="115" rx="14.850000000000001" ry="12.15" transform="rotate(0 36 115)" fill="#bab2da" opacity="0.75" filter="url(#b2_5)"/>
<ellipse cx="36" cy="115" rx="11" ry="9" transform="rotate(0 36 115)" fill="#9c92d2" opacity="0.85" filter="url(#b1_5)"/>
<ellipse cx="36" cy="115" rx="6.6" ry="5.3999999999999995" transform="rotate(0 36 115)" fill="#7c70c4" opacity="0.8" filter="url(#b2)"/>
<path d="M58 112 Q82.9 124.6 96 100 Q71.1 87.4 58 112Z" fill="#bab2da" opacity="0.75" filter="url(#b2_5)"/>
<path d="M58 112 Q80.9 118.4 96 100 Q73.1 93.6 58 112Z" fill="#9c92d2" opacity="0.85" filter="url(#b1_5)"/>
<path d="M65.6 109.6 Q79.3 113.4 88.4 102.4 Q74.7 98.6 65.6 109.6Z" fill="#7c70c4" opacity="0.8" filter="url(#b2)"/>
<path d="M92 92 Q95.1 110.3 118 108 Q109.7 86.5 92 92Z" fill="#7c70c4" opacity="0.8" filter="url(#b2)"/>
<path d="M136 128 Q163.4 135.2 176 106 Q144.6 101.0 136 128Z" fill="#bab2da" opacity="0.75" filter="url(#b2_5)"/>
<path d="M136 128 Q160.3 129.5 176 106 Q147.7 106.7 136 128Z" fill="#9c92d2" opacity="0.85" filter="url(#b1_5)"/>
<path d="M143.2 124.03999999999999 Q159.0 124.3 167.2 110.84 Q151.4 110.6 143.2 124.03999999999999Z" fill="#7c70c4" opacity="0.8" filter="url(#b2)"/>
<ellipse cx="160" cy="84" rx="8" ry="7" transform="rotate(0 160 84)" fill="#7c70c4" opacity="0.8" filter="url(#b2)"/>
<path d="M166 80 Q177.3 73.0 186 63 Q174.7 70.0 166 80Z" fill="#7c70c4" opacity="0.8" filter="url(#b0_8)"/>
<path d="M94 14 Q89.1 31.5 100 46 Q104.9 28.5 94 14Z" fill="#7c70c4" opacity="0.7" filter="url(#b2)"/>
<circle cx="75.5" cy="72.2" r="0.75" fill="#3a2878"/>
<circle cx="62.2" cy="82.5" r="0.75" fill="#3a2878"/>
<circle cx="79.7" cy="72.3" r="0.75" fill="#3a2878"/>
<circle cx="73.4" cy="72.8" r="0.75" fill="#3a2878"/>
<circle cx="41.6" cy="90.4" r="0.75" fill="#3a2878"/>
<circle cx="57.2" cy="79.9" r="0.75" fill="#3a2878"/>
<circle cx="61.0" cy="81.3" r="0.75" fill="#3a2878"/>
<circle cx="50.1" cy="83.1" r="0.75" fill="#3a2878"/>
<circle cx="80.3" cy="73.4" r="0.75" fill="#3a2878"/>
<circle cx="57.0" cy="85.6" r="0.75" fill="#3a2878"/>
<circle cx="84.4" cy="70.1" r="0.75" fill="#3a2878"/>
<circle cx="71.3" cy="74.6" r="0.75" fill="#3a2878"/>
<circle cx="64.6" cy="80.7" r="0.75" fill="#3a2878"/>
<circle cx="53.0" cy="88.2" r="0.75" fill="#3a2878"/>
<circle cx="48.7" cy="87.4" r="0.75" fill="#3a2878"/>
<circle cx="71.8" cy="75.2" r="0.75" fill="#3a2878"/>
<circle cx="65.5" cy="82.4" r="0.75" fill="#3a2878"/>
<circle cx="58.9" cy="82.2" r="0.75" fill="#3a2878"/>
<circle cx="43.1" cy="91.5" r="0.75" fill="#3a2878"/>
<circle cx="68.0" cy="77.1" r="0.75" fill="#3a2878"/>
<circle cx="66.1" cy="84.4" r="0.75" fill="#3a2878"/>
<circle cx="67.3" cy="82.5" r="0.75" fill="#3a2878"/>
<circle cx="66.5" cy="83.8" r="0.75" fill="#3a2878"/>
<circle cx="61.1" cy="78.8" r="0.75" fill="#3a2878"/>
<circle cx="78.8" cy="76.9" r="0.75" fill="#3a2878"/>
<circle cx="76.7" cy="77.7" r="0.75" fill="#3a2878"/>
<circle cx="66.6" cy="78.0" r="0.75" fill="#3a2878"/>
<circle cx="81.9" cy="72.8" r="0.75" fill="#3a2878"/>
<circle cx="64.2" cy="79.8" r="0.75" fill="#3a2878"/>
<circle cx="56.8" cy="83.6" r="0.75" fill="#3a2878"/>
<circle cx="69.2" cy="77.2" r="0.75" fill="#3a2878"/>
<circle cx="49.8" cy="82.8" r="0.75" fill="#3a2878"/>
<circle cx="82.4" cy="75.1" r="0.75" fill="#3a2878"/>
<circle cx="78.0" cy="71.1" r="0.75" fill="#3a2878"/>
<circle cx="70.5" cy="72.5" r="0.75" fill="#3a2878"/>
<circle cx="50.5" cy="81.7" r="0.75" fill="#3a2878"/>
<circle cx="54.9" cy="79.4" r="0.75" fill="#3a2878"/>
<circle cx="64.0" cy="76.4" r="0.75" fill="#3a2878"/>
<circle cx="73.9" cy="75.1" r="0.75" fill="#3a2878"/>
<circle cx="60.8" cy="76.2" r="0.75" fill="#3a2878"/>
<circle cx="59.0" cy="78.8" r="0.75" fill="#3a2878"/>
<circle cx="83.0" cy="71.6" r="0.75" fill="#3a2878"/>
<circle cx="70.3" cy="80.7" r="0.75" fill="#3a2878"/>
<circle cx="73.0" cy="72.3" r="0.75" fill="#3a2878"/>
<circle cx="72.6" cy="76.6" r="0.75" fill="#3a2878"/>
<circle cx="63.7" cy="77.1" r="0.75" fill="#3a2878"/>
<circle cx="59.3" cy="82.9" r="0.75" fill="#3a2878"/>
<circle cx="68.4" cy="73.2" r="0.75" fill="#3a2878"/>
<circle cx="56.3" cy="87.4" r="0.75" fill="#3a2878"/>
<circle cx="59.0" cy="79.5" r="0.75" fill="#3a2878"/>
<circle cx="66.0" cy="75.5" r="0.75" fill="#3a2878"/>
<circle cx="63.9" cy="78.7" r="0.75" fill="#3a2878"/>
<circle cx="50.7" cy="87.8" r="0.75" fill="#3a2878"/>
<circle cx="71.1" cy="74.6" r="0.75" fill="#3a2878"/>
<circle cx="57.2" cy="87.1" r="0.75" fill="#3a2878"/>
<circle cx="76.8" cy="72.6" r="0.75" fill="#3a2878"/>
<circle cx="73.7" cy="79.4" r="0.75" fill="#3a2878"/>
<circle cx="58.1" cy="86.8" r="0.75" fill="#3a2878"/>
<circle cx="65.2" cy="84.8" r="0.75" fill="#3a2878"/>
<circle cx="73.0" cy="71.4" r="0.75" fill="#3a2878"/>
<circle cx="76.7" cy="75.4" r="0.75" fill="#3a2878"/>
<circle cx="57.1" cy="81.3" r="0.75" fill="#3a2878"/>
<circle cx="81.9" cy="73.2" r="0.75" fill="#3a2878"/>
<circle cx="64.8" cy="75.3" r="0.75" fill="#3a2878"/>
<circle cx="79.0" cy="76.9" r="0.75" fill="#3a2878"/>
<circle cx="70.6" cy="80.1" r="0.75" fill="#3a2878"/>
<circle cx="66.2" cy="76.0" r="0.75" fill="#3a2878"/>
<circle cx="54.5" cy="88.5" r="0.75" fill="#3a2878"/>
<circle cx="84.0" cy="70.6" r="0.75" fill="#3a2878"/>
<circle cx="79.0" cy="76.9" r="0.75" fill="#3a2878"/>
<circle cx="70.4" cy="72.7" r="0.75" fill="#3a2878"/>
<circle cx="58.7" cy="78.2" r="0.75" fill="#3a2878"/>
<circle cx="52.7" cy="87.7" r="0.75" fill="#3a2878"/>
<circle cx="83.0" cy="70.2" r="0.75" fill="#3a2878"/>
<circle cx="82.6" cy="69.5" r="0.75" fill="#3a2878"/>
<circle cx="61.3" cy="76.8" r="0.75" fill="#3a2878"/>
<circle cx="68.4" cy="77.5" r="0.75" fill="#3a2878"/>
<circle cx="44.4" cy="85.6" r="0.75" fill="#3a2878"/>
<circle cx="87.0" cy="70.2" r="0.75" fill="#3a2878"/>
<circle cx="70.7" cy="74.4" r="0.75" fill="#3a2878"/>
<circle cx="53.8" cy="81.8" r="0.75" fill="#3a2878"/>
<circle cx="62.1" cy="82.5" r="0.75" fill="#3a2878"/>
<circle cx="84.5" cy="69.7" r="0.75" fill="#3a2878"/>
<circle cx="55.0" cy="82.0" r="0.75" fill="#3a2878"/>
<circle cx="81.9" cy="69.9" r="0.75" fill="#3a2878"/>
<circle cx="66.4" cy="79.8" r="0.75" fill="#3a2878"/>
<circle cx="50.1" cy="81.5" r="0.75" fill="#3a2878"/>
<circle cx="69.6" cy="75.2" r="0.75" fill="#3a2878"/>
<circle cx="65.2" cy="83.5" r="0.75" fill="#3a2878"/>
<circle cx="65.3" cy="82.7" r="0.75" fill="#3a2878"/>
<circle cx="78.5" cy="71.6" r="0.75" fill="#3a2878"/>
<circle cx="66.4" cy="83.5" r="0.75" fill="#3a2878"/>
<circle cx="56.9" cy="87.6" r="0.75" fill="#3a2878"/>
<circle cx="76.5" cy="76.5" r="0.75" fill="#3a2878"/>
<circle cx="59.4" cy="78.3" r="0.75" fill="#3a2878"/>
<circle cx="71.0" cy="74.2" r="0.75" fill="#3a2878"/>
<circle cx="66.5" cy="79.3" r="0.75" fill="#3a2878"/>
<circle cx="61.4" cy="80.0" r="0.75" fill="#3a2878"/>
<circle cx="70.6" cy="76.1" r="0.75" fill="#3a2878"/>
<circle cx="42.6" cy="87.9" r="0.75" fill="#3a2878"/>
<circle cx="45.2" cy="85.7" r="0.75" fill="#3a2878"/>
<circle cx="58.7" cy="81.3" r="0.75" fill="#3a2878"/>
<circle cx="65.4" cy="79.4" r="0.75" fill="#3a2878"/>
<circle cx="61.8" cy="83.0" r="0.75" fill="#3a2878"/>
<circle cx="51.6" cy="85.5" r="0.75" fill="#3a2878"/>
<circle cx="50.6" cy="85.0" r="0.75" fill="#3a2878"/>
<circle cx="53.9" cy="86.1" r="0.75" fill="#3a2878"/>
<circle cx="43.7" cy="89.2" r="0.75" fill="#3a2878"/>
<circle cx="48.9" cy="89.6" r="0.75" fill="#3a2878"/>
<circle cx="55.8" cy="85.7" r="0.75" fill="#3a2878"/>
<circle cx="58.7" cy="84.6" r="0.75" fill="#3a2878"/>
<circle cx="69.9" cy="81.3" r="0.75" fill="#3a2878"/>
<circle cx="86.1" cy="70.9" r="0.75" fill="#3a2878"/>
<circle cx="51.0" cy="82.7" r="0.75" fill="#3a2878"/>
<circle cx="73.5" cy="78.1" r="0.75" fill="#3a2878"/>
<circle cx="63.4" cy="76.6" r="0.75" fill="#3a2878"/>
<circle cx="79.2" cy="74.7" r="0.75" fill="#3a2878"/>
<circle cx="48.0" cy="90.2" r="0.75" fill="#3a2878"/>
<circle cx="72.4" cy="78.5" r="0.75" fill="#3a2878"/>
<circle cx="59.6" cy="85.3" r="0.75" fill="#3a2878"/>
<circle cx="47.4" cy="85.5" r="0.75" fill="#3a2878"/>
<circle cx="46.3" cy="89.0" r="0.75" fill="#3a2878"/>
<circle cx="45.0" cy="86.2" r="0.75" fill="#3a2878"/>
<circle cx="49.0" cy="86.0" r="0.75" fill="#3a2878"/>
<circle cx="70.5" cy="78.3" r="0.75" fill="#3a2878"/>
<circle cx="49.2" cy="84.2" r="0.75" fill="#3a2878"/>
<circle cx="53.6" cy="85.6" r="0.75" fill="#3a2878"/>
<circle cx="73.9" cy="78.8" r="0.75" fill="#3a2878"/>
<circle cx="86.7" cy="70.4" r="0.75" fill="#3a2878"/>
<circle cx="82.0" cy="74.9" r="0.75" fill="#3a2878"/>
<circle cx="57.6" cy="80.5" r="0.75" fill="#3a2878"/>
<circle cx="77.1" cy="70.0" r="0.75" fill="#3a2878"/>
<circle cx="68.0" cy="83.3" r="0.75" fill="#3a2878"/>
<circle cx="64.3" cy="80.7" r="0.75" fill="#3a2878"/>
<circle cx="63.6" cy="78.6" r="0.75" fill="#3a2878"/>
<circle cx="60.8" cy="79.3" r="0.75" fill="#3a2878"/>
<circle cx="78.2" cy="75.7" r="0.75" fill="#3a2878"/>
<circle cx="70.5" cy="75.8" r="0.75" fill="#3a2878"/>
<circle cx="70.2" cy="81.4" r="0.75" fill="#3a2878"/>
<circle cx="66.5" cy="84.2" r="0.75" fill="#3a2878"/>
<circle cx="79.5" cy="72.1" r="0.75" fill="#3a2878"/>
<circle cx="48.8" cy="88.1" r="0.75" fill="#3a2878"/>
<circle cx="58.4" cy="81.7" r="0.75" fill="#3a2878"/>
<circle cx="81.5" cy="73.1" r="0.75" fill="#3a2878"/>
<circle cx="83.9" cy="73.9" r="0.75" fill="#3a2878"/>
<circle cx="76.2" cy="76.1" r="0.75" fill="#3a2878"/>
<circle cx="69.8" cy="76.4" r="0.75" fill="#3a2878"/>
<circle cx="72.1" cy="81.2" r="0.75" fill="#3a2878"/>
<circle cx="81.5" cy="75.1" r="0.75" fill="#3a2878"/>
<circle cx="68.4" cy="76.4" r="0.75" fill="#3a2878"/>
<circle cx="75.4" cy="79.0" r="0.75" fill="#3a2878"/>
<circle cx="48.8" cy="90.4" r="0.75" fill="#3a2878"/>
<circle cx="60.6" cy="76.5" r="0.75" fill="#3a2878"/>
<circle cx="75.3" cy="74.1" r="0.75" fill="#3a2878"/>
<circle cx="66.2" cy="83.9" r="0.75" fill="#3a2878"/>
<circle cx="60.1" cy="83.8" r="0.75" fill="#3a2878"/>
<circle cx="49.0" cy="83.5" r="0.75" fill="#3a2878"/>
<circle cx="51.3" cy="81.0" r="0.75" fill="#3a2878"/>
<circle cx="64.6" cy="78.3" r="0.75" fill="#3a2878"/>
<circle cx="73.9" cy="72.0" r="0.75" fill="#3a2878"/>
<circle cx="75.4" cy="78.4" r="0.75" fill="#3a2878"/>
<circle cx="68.1" cy="75.2" r="0.75" fill="#3a2878"/>
<circle cx="49.6" cy="89.6" r="0.75" fill="#3a2878"/>
<circle cx="54.8" cy="81.1" r="0.75" fill="#3a2878"/>
<circle cx="75.2" cy="78.8" r="0.75" fill="#3a2878"/>
<circle cx="83.5" cy="72.7" r="0.75" fill="#3a2878"/>
<circle cx="61.8" cy="83.8" r="0.75" fill="#3a2878"/>
<circle cx="49.8" cy="87.7" r="0.75" fill="#3a2878"/>
<circle cx="86.2" cy="69.5" r="0.75" fill="#3a2878"/>
<circle cx="75.3" cy="76.1" r="0.75" fill="#3a2878"/>
<circle cx="63.8" cy="76.1" r="0.75" fill="#3a2878"/>
<circle cx="73.7" cy="74.2" r="0.75" fill="#3a2878"/>
<circle cx="52.6" cy="87.5" r="0.75" fill="#3a2878"/>
<circle cx="53.2" cy="80.5" r="0.75" fill="#3a2878"/>
<circle cx="62.0" cy="76.5" r="0.75" fill="#3a2878"/>
<circle cx="43.3" cy="90.3" r="0.75" fill="#3a2878"/>
<circle cx="75.0" cy="78.6" r="0.75" fill="#3a2878"/>
<circle cx="68.7" cy="76.2" r="0.75" fill="#3a2878"/>
<circle cx="46.6" cy="89.8" r="0.75" fill="#3a2878"/>
<circle cx="59.2" cy="82.1" r="0.75" fill="#3a2878"/>
<circle cx="47.2" cy="84.6" r="0.75" fill="#3a2878"/>
<circle cx="62.5" cy="81.5" r="0.75" fill="#3a2878"/>
<circle cx="73.5" cy="73.9" r="0.75" fill="#3a2878"/>
<circle cx="80.3" cy="70.8" r="0.75" fill="#3a2878"/>
<circle cx="69.5" cy="82.1" r="0.75" fill="#3a2878"/>
<circle cx="83.1" cy="74.3" r="0.75" fill="#3a2878"/>
<circle cx="47.8" cy="89.0" r="0.75" fill="#3a2878"/>
<circle cx="56.8" cy="79.2" r="0.75" fill="#3a2878"/>
<circle cx="51.7" cy="81.3" r="0.75" fill="#3a2878"/>
<circle cx="42.1" cy="91.2" r="0.75" fill="#3a2878"/>
<circle cx="74.3" cy="79.2" r="0.75" fill="#3a2878"/>
<circle cx="59.3" cy="83.5" r="0.75" fill="#3a2878"/>
<circle cx="69.7" cy="74.7" r="0.75" fill="#3a2878"/>
<circle cx="85.0" cy="71.6" r="0.75" fill="#3a2878"/>
<circle cx="69.2" cy="78.3" r="0.75" fill="#3a2878"/>
<circle cx="42.5" cy="87.9" r="0.75" fill="#3a2878"/>
<circle cx="51.3" cy="89.8" r="0.75" fill="#3a2878"/>
<circle cx="72.6" cy="78.5" r="0.75" fill="#3a2878"/>
<circle cx="75.5" cy="77.6" r="0.75" fill="#3a2878"/>
<circle cx="151.8" cy="44.9" r="0.75" fill="#3a2878"/>
<circle cx="130.5" cy="58.7" r="0.75" fill="#3a2878"/>
<circle cx="137.2" cy="45.8" r="0.75" fill="#3a2878"/>
<circle cx="134.8" cy="57.6" r="0.75" fill="#3a2878"/>
<circle cx="154.6" cy="39.5" r="0.75" fill="#3a2878"/>
<circle cx="118.6" cy="65.3" r="0.75" fill="#3a2878"/>
<circle cx="135.7" cy="59.8" r="0.75" fill="#3a2878"/>
<circle cx="137.1" cy="47.3" r="0.75" fill="#3a2878"/>
<circle cx="127.2" cy="53.0" r="0.75" fill="#3a2878"/>
<circle cx="150.4" cy="46.0" r="0.75" fill="#3a2878"/>
<circle cx="149.5" cy="47.6" r="0.75" fill="#3a2878"/>
<circle cx="126.2" cy="64.6" r="0.75" fill="#3a2878"/>
<circle cx="135.8" cy="53.5" r="0.75" fill="#3a2878"/>
<circle cx="153.3" cy="39.7" r="0.75" fill="#3a2878"/>
<circle cx="134.6" cy="60.5" r="0.75" fill="#3a2878"/>
<circle cx="136.1" cy="53.9" r="0.75" fill="#3a2878"/>
<circle cx="145.5" cy="45.4" r="0.75" fill="#3a2878"/>
<circle cx="132.0" cy="59.3" r="0.75" fill="#3a2878"/>
<circle cx="150.7" cy="37.6" r="0.75" fill="#3a2878"/>
<circle cx="133.6" cy="62.6" r="0.75" fill="#3a2878"/>
<circle cx="137.3" cy="52.1" r="0.75" fill="#3a2878"/>
<circle cx="138.8" cy="47.4" r="0.75" fill="#3a2878"/>
<circle cx="141.1" cy="56.5" r="0.75" fill="#3a2878"/>
<circle cx="149.1" cy="50.0" r="0.75" fill="#3a2878"/>
<circle cx="140.9" cy="45.0" r="0.75" fill="#3a2878"/>
<circle cx="140.8" cy="55.3" r="0.75" fill="#3a2878"/>
<circle cx="129.1" cy="64.6" r="0.75" fill="#3a2878"/>
<circle cx="129.0" cy="52.3" r="0.75" fill="#3a2878"/>
<circle cx="146.1" cy="39.1" r="0.75" fill="#3a2878"/>
<circle cx="143.4" cy="45.2" r="0.75" fill="#3a2878"/>
<circle cx="117.9" cy="63.7" r="0.75" fill="#3a2878"/>
<circle cx="143.0" cy="40.7" r="0.75" fill="#3a2878"/>
<circle cx="118.6" cy="65.0" r="0.75" fill="#3a2878"/>
<circle cx="149.6" cy="49.6" r="0.75" fill="#3a2878"/>
<circle cx="152.6" cy="43.8" r="0.75" fill="#3a2878"/>
<circle cx="127.8" cy="61.7" r="0.75" fill="#3a2878"/>
<circle cx="121.3" cy="62.9" r="0.75" fill="#3a2878"/>
<circle cx="123.4" cy="63.7" r="0.75" fill="#3a2878"/>
<circle cx="134.6" cy="47.6" r="0.75" fill="#3a2878"/>
<circle cx="128.7" cy="60.1" r="0.75" fill="#3a2878"/>
<circle cx="119.0" cy="66.6" r="0.75" fill="#3a2878"/>
<circle cx="142.2" cy="48.2" r="0.75" fill="#3a2878"/>
<circle cx="126.3" cy="59.1" r="0.75" fill="#3a2878"/>
<circle cx="141.5" cy="50.8" r="0.75" fill="#3a2878"/>
<circle cx="143.0" cy="43.2" r="0.75" fill="#3a2878"/>
<circle cx="133.8" cy="45.7" r="0.75" fill="#3a2878"/>
<circle cx="130.2" cy="50.3" r="0.75" fill="#3a2878"/>
<circle cx="123.7" cy="55.0" r="0.75" fill="#3a2878"/>
<circle cx="124.3" cy="56.6" r="0.75" fill="#3a2878"/>
<circle cx="134.0" cy="50.9" r="0.75" fill="#3a2878"/>
<circle cx="129.4" cy="64.9" r="0.75" fill="#3a2878"/>
<circle cx="145.2" cy="44.6" r="0.75" fill="#3a2878"/>
<circle cx="136.3" cy="44.6" r="0.75" fill="#3a2878"/>
<circle cx="135.3" cy="47.7" r="0.75" fill="#3a2878"/>
<circle cx="147.5" cy="41.8" r="0.75" fill="#3a2878"/>
<circle cx="154.1" cy="41.1" r="0.75" fill="#3a2878"/>
<circle cx="120.1" cy="61.4" r="0.75" fill="#3a2878"/>
<circle cx="134.4" cy="52.4" r="0.75" fill="#3a2878"/>
<circle cx="126.6" cy="61.4" r="0.75" fill="#3a2878"/>
<circle cx="127.7" cy="56.8" r="0.75" fill="#3a2878"/>
<circle cx="122.9" cy="67.1" r="0.75" fill="#3a2878"/>
<circle cx="138.8" cy="48.7" r="0.75" fill="#3a2878"/>
<circle cx="145.8" cy="43.5" r="0.75" fill="#3a2878"/>
<circle cx="151.6" cy="43.5" r="0.75" fill="#3a2878"/>
<circle cx="145.4" cy="50.5" r="0.75" fill="#3a2878"/>
<circle cx="135.7" cy="50.5" r="0.75" fill="#3a2878"/>
<circle cx="146.5" cy="40.8" r="0.75" fill="#3a2878"/>
<circle cx="140.0" cy="57.7" r="0.75" fill="#3a2878"/>
<circle cx="126.9" cy="54.9" r="0.75" fill="#3a2878"/>
<circle cx="127.2" cy="58.1" r="0.75" fill="#3a2878"/>
<circle cx="153.8" cy="40.9" r="0.75" fill="#3a2878"/>
<circle cx="120.3" cy="62.1" r="0.75" fill="#3a2878"/>
<circle cx="122.7" cy="61.3" r="0.75" fill="#3a2878"/>
<circle cx="121.0" cy="60.5" r="0.75" fill="#3a2878"/>
<circle cx="145.1" cy="49.1" r="0.75" fill="#3a2878"/>
<circle cx="134.7" cy="47.0" r="0.75" fill="#3a2878"/>
<circle cx="121.7" cy="63.9" r="0.75" fill="#3a2878"/>
<circle cx="131.0" cy="63.4" r="0.75" fill="#3a2878"/>
<circle cx="144.0" cy="45.1" r="0.75" fill="#3a2878"/>
<circle cx="148.5" cy="44.7" r="0.75" fill="#3a2878"/>
<circle cx="130.8" cy="48.4" r="0.75" fill="#3a2878"/>
<circle cx="148.9" cy="37.4" r="0.75" fill="#3a2878"/>
<circle cx="135.5" cy="51.4" r="0.75" fill="#3a2878"/>
<circle cx="155.5" cy="41.7" r="0.75" fill="#3a2878"/>
<circle cx="153.3" cy="36.8" r="0.75" fill="#3a2878"/>
<circle cx="145.3" cy="50.3" r="0.75" fill="#3a2878"/>
<circle cx="127.5" cy="61.3" r="0.75" fill="#3a2878"/>
<circle cx="137.4" cy="55.4" r="0.75" fill="#3a2878"/>
<circle cx="145.4" cy="51.2" r="0.75" fill="#3a2878"/>
<circle cx="155.9" cy="41.8" r="0.75" fill="#3a2878"/>
<circle cx="144.7" cy="40.9" r="0.75" fill="#3a2878"/>
<circle cx="137.7" cy="46.1" r="0.75" fill="#3a2878"/>
<circle cx="124.1" cy="63.7" r="0.75" fill="#3a2878"/>
<circle cx="128.1" cy="59.9" r="0.75" fill="#3a2878"/>
<circle cx="139.3" cy="56.2" r="0.75" fill="#3a2878"/>
<circle cx="146.6" cy="44.5" r="0.75" fill="#3a2878"/>
<circle cx="128.7" cy="54.2" r="0.75" fill="#3a2878"/>
<circle cx="144.0" cy="41.0" r="0.75" fill="#3a2878"/>
<circle cx="147.1" cy="42.7" r="0.75" fill="#3a2878"/>
<circle cx="151.1" cy="47.8" r="0.75" fill="#3a2878"/>
<circle cx="123.1" cy="60.4" r="0.75" fill="#3a2878"/>
<circle cx="143.1" cy="55.6" r="0.75" fill="#3a2878"/>
<circle cx="137.5" cy="49.6" r="0.75" fill="#3a2878"/>
<circle cx="149.6" cy="39.2" r="0.75" fill="#3a2878"/>
<circle cx="136.7" cy="52.9" r="0.75" fill="#3a2878"/>
<circle cx="130.7" cy="59.3" r="0.75" fill="#3a2878"/>
<circle cx="142.0" cy="46.4" r="0.75" fill="#3a2878"/>
<circle cx="122.5" cy="65.2" r="0.75" fill="#3a2878"/>
<circle cx="141.1" cy="55.0" r="0.75" fill="#3a2878"/>
<circle cx="140.3" cy="46.1" r="0.75" fill="#3a2878"/>
<circle cx="133.1" cy="50.2" r="0.75" fill="#3a2878"/>
<circle cx="148.2" cy="41.4" r="0.75" fill="#3a2878"/>
<circle cx="126.5" cy="52.5" r="0.75" fill="#3a2878"/>
<circle cx="123.7" cy="61.0" r="0.75" fill="#3a2878"/>
<circle cx="136.0" cy="55.2" r="0.75" fill="#3a2878"/>
<circle cx="127.0" cy="52.5" r="0.75" fill="#3a2878"/>
<circle cx="126.6" cy="63.0" r="0.75" fill="#3a2878"/>
<circle cx="134.0" cy="59.5" r="0.75" fill="#3a2878"/>
<circle cx="149.9" cy="44.6" r="0.75" fill="#3a2878"/>
<circle cx="148.1" cy="40.9" r="0.75" fill="#3a2878"/>
<circle cx="153.3" cy="39.7" r="0.75" fill="#3a2878"/>
<circle cx="149.7" cy="48.9" r="0.75" fill="#3a2878"/>
<circle cx="130.0" cy="59.4" r="0.75" fill="#3a2878"/>
<circle cx="131.0" cy="54.7" r="0.75" fill="#3a2878"/>
<circle cx="153.3" cy="37.1" r="0.75" fill="#3a2878"/>
<circle cx="117.7" cy="64.0" r="0.75" fill="#3a2878"/>
<circle cx="146.5" cy="43.7" r="0.75" fill="#3a2878"/>
<circle cx="129.7" cy="63.3" r="0.75" fill="#3a2878"/>
<circle cx="129.9" cy="59.8" r="0.75" fill="#3a2878"/>
<circle cx="133.6" cy="62.1" r="0.75" fill="#3a2878"/>
<circle cx="120.8" cy="59.0" r="0.75" fill="#3a2878"/>
<circle cx="131.8" cy="51.5" r="0.75" fill="#3a2878"/>
<circle cx="125.1" cy="56.4" r="0.75" fill="#3a2878"/>
<circle cx="129.7" cy="55.3" r="0.75" fill="#3a2878"/>
<circle cx="149.9" cy="41.1" r="0.75" fill="#3a2878"/>
<circle cx="123.1" cy="62.9" r="0.75" fill="#3a2878"/>
<circle cx="133.1" cy="59.7" r="0.75" fill="#3a2878"/>
<circle cx="132.7" cy="54.8" r="0.75" fill="#3a2878"/>
<circle cx="132.8" cy="61.1" r="0.75" fill="#3a2878"/>
<circle cx="140.7" cy="49.9" r="0.75" fill="#3a2878"/>
<circle cx="134.5" cy="52.3" r="0.75" fill="#3a2878"/>
<circle cx="155.3" cy="41.4" r="0.75" fill="#3a2878"/>
<circle cx="119.2" cy="62.0" r="0.75" fill="#3a2878"/>
<circle cx="128.5" cy="52.7" r="0.75" fill="#3a2878"/>
<circle cx="140.1" cy="42.5" r="0.75" fill="#3a2878"/>
<circle cx="138.9" cy="42.7" r="0.75" fill="#3a2878"/>
<circle cx="126.9" cy="59.3" r="0.75" fill="#3a2878"/>
<circle cx="123.2" cy="62.5" r="0.75" fill="#3a2878"/>
<circle cx="149.5" cy="43.0" r="0.75" fill="#3a2878"/>
<circle cx="133.6" cy="48.1" r="0.75" fill="#3a2878"/>
<circle cx="119.6" cy="60.1" r="0.75" fill="#3a2878"/>
<circle cx="125.1" cy="58.9" r="0.75" fill="#3a2878"/>
<circle cx="145.4" cy="45.8" r="0.75" fill="#3a2878"/>
<circle cx="150.3" cy="44.2" r="0.75" fill="#3a2878"/>
<circle cx="130.6" cy="53.3" r="0.75" fill="#3a2878"/>
<circle cx="133.4" cy="52.9" r="0.75" fill="#3a2878"/>
<circle cx="149.5" cy="43.7" r="0.75" fill="#3a2878"/>
<circle cx="131.0" cy="61.2" r="0.75" fill="#3a2878"/>
<circle cx="128.3" cy="62.1" r="0.75" fill="#3a2878"/>
<circle cx="139.1" cy="42.2" r="0.75" fill="#3a2878"/>
<circle cx="123.0" cy="57.2" r="0.75" fill="#3a2878"/>
<circle cx="143.6" cy="49.2" r="0.75" fill="#3a2878"/>
<circle cx="144.6" cy="45.9" r="0.75" fill="#3a2878"/>
<circle cx="150.2" cy="47.7" r="0.75" fill="#3a2878"/>
<circle cx="136.9" cy="44.0" r="0.75" fill="#3a2878"/>
<circle cx="123.1" cy="64.8" r="0.75" fill="#3a2878"/>
<circle cx="133.9" cy="50.7" r="0.75" fill="#3a2878"/>
<circle cx="151.1" cy="44.9" r="0.75" fill="#3a2878"/>
<circle cx="153.0" cy="41.1" r="0.75" fill="#3a2878"/>
<circle cx="135.6" cy="56.9" r="0.75" fill="#3a2878"/>
<circle cx="139.9" cy="43.2" r="0.75" fill="#3a2878"/>
<circle cx="131.7" cy="63.2" r="0.75" fill="#3a2878"/>
<circle cx="130.9" cy="57.2" r="0.75" fill="#3a2878"/>
<circle cx="141.5" cy="56.0" r="0.75" fill="#3a2878"/>
<circle cx="149.1" cy="46.3" r="0.75" fill="#3a2878"/>
<circle cx="134.6" cy="53.0" r="0.75" fill="#3a2878"/>
<circle cx="133.9" cy="50.0" r="0.75" fill="#3a2878"/>
<circle cx="133.5" cy="49.2" r="0.75" fill="#3a2878"/>
<circle cx="138.2" cy="47.8" r="0.75" fill="#3a2878"/>
<circle cx="144.1" cy="53.0" r="0.75" fill="#3a2878"/>
<circle cx="142.8" cy="50.4" r="0.75" fill="#3a2878"/>
<circle cx="142.4" cy="44.6" r="0.75" fill="#3a2878"/>
<circle cx="148.2" cy="40.0" r="0.75" fill="#3a2878"/>
<circle cx="148.7" cy="37.9" r="0.75" fill="#3a2878"/>
<circle cx="128.0" cy="54.5" r="0.75" fill="#3a2878"/>
<circle cx="130.5" cy="55.9" r="0.75" fill="#3a2878"/>
<circle cx="137.0" cy="45.6" r="0.75" fill="#3a2878"/>
<circle cx="140.0" cy="47.5" r="0.75" fill="#3a2878"/>
<circle cx="143.9" cy="54.1" r="0.75" fill="#3a2878"/>
<circle cx="139.4" cy="55.5" r="0.75" fill="#3a2878"/>
<circle cx="121.9" cy="59.8" r="0.75" fill="#3a2878"/>
<circle cx="148.0" cy="50.3" r="0.75" fill="#3a2878"/>
<circle cx="145.0" cy="46.4" r="0.75" fill="#3a2878"/>
<circle cx="140.3" cy="43.2" r="0.75" fill="#3a2878"/>
<circle cx="132.3" cy="54.4" r="0.75" fill="#3a2878"/>
<circle cx="132.6" cy="54.8" r="0.75" fill="#3a2878"/>
<circle cx="123.8" cy="57.1" r="0.75" fill="#3a2878"/>
<circle cx="155.6" cy="41.1" r="0.75" fill="#3a2878"/>
<circle cx="144.1" cy="44.9" r="0.75" fill="#3a2878"/>
<circle cx="121.8" cy="63.6" r="0.75" fill="#3a2878"/>
<circle cx="148.5" cy="44.7" r="0.75" fill="#3a2878"/>
<circle cx="143.6" cy="42.1" r="0.75" fill="#3a2878"/>
<g transform="rotate(0 47.6 54.4)" filter="url(#b0_5)"><ellipse cx="47.6" cy="54.4" rx="5.4" ry="7.6" fill="#9438b0" stroke="#000" stroke-opacity="0.18" stroke-width="0.9"/><circle cx="46.0" cy="53.3" r="1.2" fill="#000" opacity="0.22"/><circle cx="49.0" cy="56.7" r="1.1" fill="#000" opacity="0.22"/><circle cx="48.1" cy="51.4" r="0.9" fill="#000" opacity="0.18"/></g>
<g transform="rotate(0 73.3 47.9)" filter="url(#b0_5)"><ellipse cx="73.3" cy="47.9" rx="5.4" ry="4.7" fill="#9438b0" stroke="#000" stroke-opacity="0.18" stroke-width="0.9"/><circle cx="71.7" cy="47.2" r="1.0" fill="#000" opacity="0.22"/><circle cx="74.6" cy="49.3" r="0.9" fill="#000" opacity="0.22"/><circle cx="73.8" cy="46.0" r="0.8" fill="#000" opacity="0.18"/></g>
<g transform="rotate(0 90 31.2)" filter="url(#b0_5)"><ellipse cx="90" cy="31.2" rx="5" ry="5" fill="#9438b0" stroke="#000" stroke-opacity="0.18" stroke-width="0.9"/><circle cx="88.5" cy="30.4" r="1.1" fill="#000" opacity="0.22"/><circle cx="91.2" cy="32.7" r="1.0" fill="#000" opacity="0.22"/><circle cx="90.5" cy="29.2" r="0.8" fill="#000" opacity="0.18"/></g>
<g transform="rotate(0 140.9 57.3)" filter="url(#b0_5)"><ellipse cx="140.9" cy="57.3" rx="5.4" ry="5" fill="#9438b0" stroke="#000" stroke-opacity="0.18" stroke-width="0.9"/><circle cx="139.3" cy="56.5" r="1.1" fill="#000" opacity="0.22"/><circle cx="142.2" cy="58.8" r="1.0" fill="#000" opacity="0.22"/><circle cx="141.4" cy="55.3" r="0.8" fill="#000" opacity="0.18"/></g>
<g transform="rotate(0 62.4 78.4)" filter="url(#b0_5)"><ellipse cx="62.4" cy="78.4" rx="5.8" ry="4.7" fill="#9438b0" stroke="#000" stroke-opacity="0.18" stroke-width="0.9"/><circle cx="60.7" cy="77.7" r="1.0" fill="#000" opacity="0.22"/><circle cx="63.9" cy="79.8" r="0.9" fill="#000" opacity="0.22"/><circle cx="63.0" cy="76.5" r="0.8" fill="#000" opacity="0.18"/></g>
<g transform="rotate(0 87.8 103.7)" filter="url(#b0_5)"><ellipse cx="87.8" cy="103.7" rx="5.4" ry="6.9" fill="#9438b0" stroke="#000" stroke-opacity="0.18" stroke-width="0.9"/><circle cx="86.2" cy="102.7" r="1.2" fill="#000" opacity="0.22"/><circle cx="89.1" cy="105.8" r="1.1" fill="#000" opacity="0.22"/><circle cx="88.3" cy="100.9" r="0.9" fill="#000" opacity="0.18"/></g>
<g transform="rotate(0 36.3 113.9)" filter="url(#b0_5)"><ellipse cx="36.3" cy="113.9" rx="6.2" ry="5.4" fill="#9438b0" stroke="#000" stroke-opacity="0.18" stroke-width="0.9"/><circle cx="34.4" cy="113.1" r="1.2" fill="#000" opacity="0.22"/><circle cx="37.8" cy="115.5" r="1.1" fill="#000" opacity="0.22"/><circle cx="36.9" cy="111.7" r="0.9" fill="#000" opacity="0.18"/></g>
<g transform="rotate(0 156.1 120.4)" filter="url(#b0_5)"><ellipse cx="156.1" cy="120.4" rx="5.4" ry="5.4" fill="#9438b0" stroke="#000" stroke-opacity="0.18" stroke-width="0.9"/><circle cx="154.5" cy="119.6" r="1.2" fill="#000" opacity="0.22"/><circle cx="157.4" cy="122.0" r="1.1" fill="#000" opacity="0.22"/><circle cx="156.6" cy="118.2" r="0.9" fill="#000" opacity="0.18"/></g>
<g transform="rotate(0 163.4 84.2)" filter="url(#b0_5)"><ellipse cx="163.4" cy="84.2" rx="4" ry="4" fill="#301050" stroke="#000" stroke-opacity="0.18" stroke-width="0.9"/><circle cx="162.2" cy="83.6" r="0.9" fill="#000" opacity="0.22"/><circle cx="164.4" cy="85.4" r="0.8" fill="#000" opacity="0.22"/><circle cx="163.8" cy="82.6" r="0.6" fill="#000" opacity="0.18"/></g>
<g transform="rotate(20 162.4 9)" filter="url(#b0_5)"><ellipse cx="162.4" cy="9" rx="4.4" ry="5.8" fill="#2a1050" stroke="#000" stroke-opacity="0.18" stroke-width="0.9"/><circle cx="161.1" cy="8.1" r="1.0" fill="#000" opacity="0.22"/><circle cx="163.5" cy="10.7" r="0.9" fill="#000" opacity="0.22"/><circle cx="162.8" cy="6.7" r="0.7" fill="#000" opacity="0.18"/></g>
<g transform="rotate(0 2.2 42.8)" filter="url(#b0_5)"><ellipse cx="2.2" cy="42.8" rx="4" ry="5" fill="#9438b0" stroke="#000" stroke-opacity="0.18" stroke-width="0.9"/><circle cx="1.0" cy="42.0" r="0.9" fill="#000" opacity="0.22"/><circle cx="3.2" cy="44.3" r="0.8" fill="#000" opacity="0.22"/><circle cx="2.6" cy="40.8" r="0.6" fill="#000" opacity="0.18"/></g>
<g transform="rotate(0 154 1.5)" filter="url(#b0_5)"><ellipse cx="154" cy="1.5" rx="6" ry="4" fill="#9438b0" stroke="#000" stroke-opacity="0.18" stroke-width="0.9"/><circle cx="152.2" cy="0.9" r="0.9" fill="#000" opacity="0.22"/><circle cx="155.5" cy="2.7" r="0.8" fill="#000" opacity="0.22"/><circle cx="154.6" cy="-0.1" r="0.6" fill="#000" opacity="0.18"/></g>
<path d="M167.3 28.2 L159.5 36.6 M160.5 32.7 L159.5 36.6 L163.3 35.3" stroke="#e8302a" stroke-width="1.1" fill="none"/>
<path d="M78.9 60.5 L71 68.1 M72.2 64.3 L71 68.1 L74.9 67.0" stroke="#e8302a" stroke-width="1.1" fill="none"/>
<rect width="185.7" height="137" filter="url(#grain)" opacity="0.18"/>
<line x1="135.7" y1="132.1" x2="170.7" y2="132.1" stroke="#3a3a3a" stroke-width="1.1"/>
<text x="153.39999999999998" y="130.5" font-size="6.6" text-anchor="middle" fill="#1a1a1a">50 µm</text>
</svg>
</svg>
</body></html>
